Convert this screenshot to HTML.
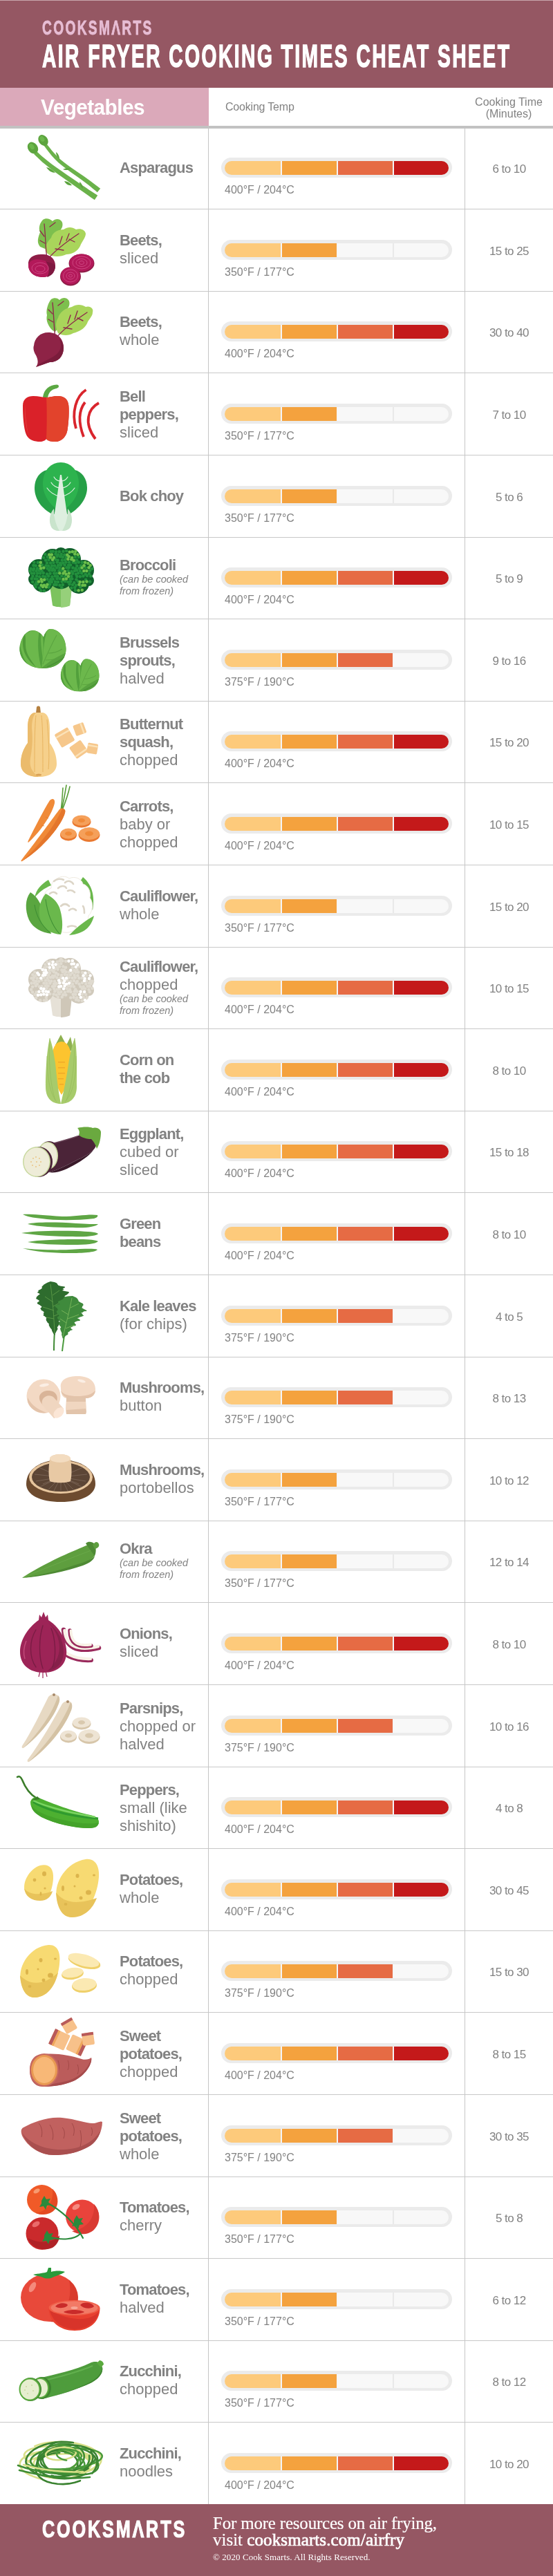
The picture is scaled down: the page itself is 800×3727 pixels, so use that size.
<!DOCTYPE html>
<html><head><meta charset="utf-8"><style>
*{margin:0;padding:0;box-sizing:border-box}
html,body{width:800px;height:3727px;overflow:hidden;background:#fff;font-family:"Liberation Sans",sans-serif}
body>div{will-change:transform}
#hd{position:absolute;left:0;top:0;width:800px;height:127px;background:#955763}
#hd .tl{position:absolute;left:0;top:0;width:800px;height:1px;background:#c9a6ad}
.logo{position:absolute;white-space:nowrap;transform-origin:0 0}
#lg1{left:61px;top:23px;font-size:32px;font-weight:bold;color:#e7bdd4;-webkit-text-stroke:0.9px #e7bdd4;font-size:30px;letter-spacing:3.6px;transform:scaleX(0.64)}
#ttl{position:absolute;left:61px;top:52.5px;-webkit-text-stroke:1.5px #fff;font-size:47px;letter-spacing:4.1px;font-weight:bold;color:#fff;white-space:nowrap;transform-origin:0 0;transform:scaleX(0.6)}
#veg{position:absolute;left:0;top:127px;width:302px;height:55px;background:#dba9ba}
#veg span{position:absolute;left:59px;top:9.5px;font-size:32px;font-weight:bold;color:#fff;letter-spacing:-0.6px;white-space:nowrap;transform-origin:0 0;transform:scaleX(0.93)}
#ct{position:absolute;left:326px;top:146px;letter-spacing:-0.2px;font-size:16px;color:#828282;white-space:nowrap}
#ctm{position:absolute;left:672px;width:128px;top:140px;font-size:16px;line-height:16.7px;color:#828282;text-align:center}
#gl{position:absolute;left:0;top:182px;width:800px;height:4px;background:#c2c2c2}
#v1{position:absolute;left:301px;top:182px;width:1px;height:3441px;background:#c6c6c6}
#v2{position:absolute;left:672px;top:186px;width:1px;height:3437px;background:#c6c6c6}
.row{position:absolute;left:0;width:800px;height:118.6px}
.row:after{content:"";position:absolute;left:0;right:0;top:118.6px;height:1px;background:#c8c8c8}
.ic{position:absolute;left:0;top:0}
.nm{position:absolute;left:173px;top:0;height:118.6px;width:128px;display:flex;flex-direction:column;justify-content:center;color:#828282;}
.nm .b{font-weight:bold;font-size:22px;line-height:26px;letter-spacing:-0.85px;white-space:nowrap}
.nm .r{font-size:22px;line-height:26px;white-space:nowrap}
.nm .nt{font-style:italic;font-size:14.5px;line-height:17px;white-space:nowrap}
.nm .nt1{margin-top:-1px}
.trk{position:absolute;left:320px;top:45px;width:334px;height:29px;border-radius:15px;background:#ebebeb}
.in{position:absolute;left:5px;top:4.5px;width:324px;height:20px;border-radius:10px;overflow:hidden}
.sg,.sp{position:absolute;top:0;height:20px}
.tp{position:absolute;left:325px;top:82.5px;font-size:16px;color:#828282;white-space:nowrap}
.tm{position:absolute;left:673px;width:127px;top:52px;text-align:center;font-size:17px;letter-spacing:-0.55px;color:#828282}
#ft{position:absolute;left:0;top:3622.5px;width:800px;height:104.5px;background:#955763}
#ft .bl{position:absolute;left:0;bottom:0;width:800px;height:1px;background:#c9a6ad}
#lg2{left:61px;top:16px;font-size:38px;font-weight:bold;color:#fff;-webkit-text-stroke:1.2px #fff;font-size:35.5px;letter-spacing:4px;transform:scaleX(0.71)}
.ser{position:absolute;left:308px;font-family:"Liberation Serif",serif;color:#fff;white-space:nowrap}
#f1{top:14px;font-size:25px;letter-spacing:-0.2px;-webkit-text-stroke:0.2px #fff}
#f2{top:38px;font-size:25px;-webkit-text-stroke:0.2px #fff}
#f2 b{font-weight:normal;-webkit-text-stroke:0.7px #fff;letter-spacing:0.1px}
#f3{top:69px;font-size:13px;letter-spacing:0.08px}
</style></head><body>
<div id="hd"><div class="tl"></div>
<div class="logo" id="lg1">COOKSMΛRTS</div>
<div id="ttl">AIR FRYER COOKING TIMES CHEAT SHEET</div>
</div>
<div id="veg"><span>Vegetables</span></div>
<div id="ct">Cooking Temp</div>
<div id="ctm">Cooking Time<br>(Minutes)</div>
<div id="gl"></div>
<div class="row" style="top:183.1px">
<svg class="ic" width="170" height="118" viewBox="0 0 170 118">
<path d="M49.2 40.0 L51.2 42.0 L53.9 44.6 L57.3 47.8 L61.2 51.4 L65.9 55.3 L71.1 59.5 L77.4 64.3 L84.9 69.7 L93.1 75.5 L101.2 81.2 L108.7 86.5 L115.0 90.9 L120.1 94.6 L124.7 97.8 L128.6 100.6 L132.0 102.9 L134.7 104.8 L136.8 106.3 L141.2 99.7 L139.1 98.3 L136.3 96.5 L132.9 94.3 L128.9 91.7 L124.3 88.6 L119.0 85.1 L112.7 80.7 L105.1 75.6 L96.9 70.0 L88.8 64.3 L81.2 59.0 L74.9 54.5 L69.8 50.5 L65.2 46.8 L61.2 43.4 L57.8 40.4 L55.0 37.8 L52.8 36.0Z" fill="#6ab24a"/><path d="M63.3 27.4 L65.3 30.0 L67.9 33.5 L71.2 37.8 L75.0 42.4 L79.4 47.3 L84.2 52.0 L90.0 56.8 L96.8 62.0 L104.0 67.2 L111.2 72.3 L117.8 77.0 L123.2 81.0 L127.5 84.3 L131.2 87.3 L134.4 89.9 L137.0 92.0 L139.1 93.8 L140.8 95.2 L145.2 89.8 L143.4 88.5 L141.2 86.8 L138.5 84.7 L135.2 82.2 L131.3 79.3 L126.8 76.0 L121.3 72.1 L114.6 67.5 L107.3 62.5 L100.1 57.4 L93.4 52.5 L87.8 48.0 L83.1 43.6 L78.8 39.1 L75.0 34.7 L71.7 30.6 L68.9 27.1 L66.7 24.6Z" fill="#6ab24a"/>
<g fill="#5ca43e">
<ellipse cx="47.5" cy="31" rx="7" ry="9" transform="rotate(-35 47.5 31)"/>
<ellipse cx="62.5" cy="20" rx="6.5" ry="8.5" transform="rotate(-35 62.5 20)"/>
<path d="M67 59 C72 60 77 63 80 67 C75 67 70 64 67 59Z"/>
<path d="M93 79 C97 79 101 81 104 85 C99 86 95 83 93 79Z"/>
<path d="M115 80 C118 82 120 86 120 90 C117 88 115 84 115 80Z"/>
<path d="M81 37 C84 39 86 43 86 47 C83 45 81 41 81 37Z"/>
<path d="M91 62 C95 60 99 60 103 61 C99 63 95 64 91 62Z"/>
</g>
<g fill="#6cb84c"><ellipse cx="46" cy="29" rx="3" ry="4.5" transform="rotate(-35 46 29)"/><ellipse cx="61" cy="18" rx="3" ry="4.2" transform="rotate(-35 61 18)"/></g>
</svg>
<div class="nm" style="top:1px"><div class="b">Asparagus</div></div>
<div class="trk"><div class="in"><div class="sg" style="left:0px;width:80.5px;background:#fdca7b"></div><div class="sg" style="left:82.5px;width:79.0px;background:#f4a23e"></div><div class="sg" style="left:163.5px;width:79.0px;background:#e66b44"></div><div class="sg" style="left:244.5px;width:79.5px;background:#c4191a"></div><div class="sp" style="left:80.5px;width:2.0px;background:#f4f4f8"></div><div class="sp" style="left:161.5px;width:2.0px;background:#f4f4f8"></div><div class="sp" style="left:242.5px;width:2.0px;background:#f4f4f8"></div></div></div>
<div class="tp">400°F / 204°C</div>
<div class="tm">6 to 10</div>
</div><div class="row" style="top:301.7px">
<svg class="ic" width="170" height="118" viewBox="0 0 170 118">
<path d="M58 55 C52 48 56 40 58 34 C55 28 58 20 62 16 C66 13 72 14 76 18 C80 14 86 14 89 18 C92 22 90 28 88 30 C88 40 78 50 70 60 Z" fill="#7dbf4e"/>
<path d="M66 62 C64 54 70 46 74 42 C76 34 84 30 92 30 C98 26 104 26 110 30 C116 28 123 30 124 36 C124 42 118 48 116 54 C112 62 104 66 96 66 C88 70 76 70 70 66 Z" fill="#a9d55b"/>
<g stroke="#8d2a4a" stroke-width="1.3" fill="none" stroke-linecap="round">
<path d="M68 72 C66 60 66 40 64 22"/><path d="M70 72 C80 60 96 48 114 36"/>
<path d="M64 40 L58 32 M65 50 L58 46 M86 52 L90 40 M96 46 L100 36 M80 58 L92 60 M72 26 L80 20 M100 44 L108 48"/>
</g>
<path d="M41 81 C40 70 50 65 62 66 C74 66 80 74 80 82 C80 92 70 100 60 99 C48 98 41 91 41 81Z" fill="#8e1d47"/>
<path d="M41 82 C42 74 52 72 60 74 C70 76 78 80 80 84 C79 93 70 100 60 99 C48 98 41 91 41 82Z" fill="#b3195a"/>
<path d="M66 76 C74 78 80 80 80 84 C79 93 74 97 68 99 C72 92 72 84 66 76Z" fill="#7e1840"/>
<g fill="none" stroke="#d04a84" stroke-width="0.9"><ellipse cx="58" cy="86" rx="12" ry="8"/><ellipse cx="58" cy="87" rx="7" ry="4.5"/></g>
<ellipse cx="118" cy="79" rx="18.5" ry="13.5" fill="#8e1d47"/>
<ellipse cx="118" cy="78" rx="17.5" ry="12.5" fill="#b3195a"/>
<g fill="none" stroke="#d04a84" stroke-width="0.9"><ellipse cx="118" cy="78" rx="13" ry="9"/><ellipse cx="118" cy="78" rx="8" ry="5.5"/><ellipse cx="118" cy="78" rx="3.5" ry="2.5"/></g>
<ellipse cx="102" cy="98" rx="15" ry="13.5" fill="#8e1d47"/>
<ellipse cx="102" cy="97" rx="14" ry="12.5" fill="#b3195a"/>
<g fill="none" stroke="#d04a84" stroke-width="0.9"><ellipse cx="102" cy="97" rx="10.5" ry="9"/><ellipse cx="102" cy="97" rx="6" ry="5"/><ellipse cx="102" cy="97" rx="2.5" ry="2"/></g>
</svg>
<div class="nm" style="top:0px"><div class="b">Beets,</div><div class="r">sliced</div></div>
<div class="trk"><div class="in"><div class="sg" style="left:0px;width:80.5px;background:#fdca7b"></div><div class="sg" style="left:82.5px;width:79.0px;background:#f4a23e"></div><div class="sg" style="left:163.5px;width:79.0px;background:#f8f8f8"></div><div class="sg" style="left:244.5px;width:79.5px;background:#f8f8f8"></div><div class="sp" style="left:80.5px;width:2.0px;background:#f4f4f8"></div><div class="sp" style="left:161.5px;width:2.0px;background:#f6f6f6"></div><div class="sp" style="left:242.5px;width:2.0px;background:#e9e9e9"></div></div></div>
<div class="tp">350°F / 177°C</div>
<div class="tm">15 to 25</div>
</div><div class="row" style="top:420.3px">
<svg class="ic" width="170" height="118" viewBox="0 0 170 118">
<path d="M76 58 C70 52 66 44 68 36 C66 28 70 18 74 13 C78 10 84 11 86 14 C90 10 96 10 99 14 C102 18 100 24 98 26 C96 40 88 50 80 60Z" fill="#7dbf4e"/>
<path d="M84 62 C80 54 80 46 84 40 C86 32 94 26 104 24 C110 20 118 20 124 24 C130 22 136 26 134 32 C134 38 128 42 126 48 C122 56 114 60 106 62 C100 66 90 66 84 62Z" fill="#a9d55b"/>
<g stroke="#8d2a4a" stroke-width="1.4" fill="none" stroke-linecap="round">
<path d="M80 68 C78 56 78 36 76 18"/><path d="M82 68 C92 56 108 44 126 32"/>
<path d="M76 34 L70 28 M77 46 L70 42 M98 48 L102 36 M108 42 L112 30 M92 54 L104 56 M84 22 L92 16 M112 40 L120 44"/>
</g>
<path d="M70 61 C83 61 92 70 92 83 C92 96 84 104 72 104 C66 106 60 108 52 111 C56 106 55 100 52 94 C48 88 48 82 49 80 C50 69 58 61 70 61Z" fill="#8e2346"/>
<path d="M86 70 C90 74 92 78 92 83 C92 96 84 104 72 104 C66 106 60 108 52 111 C58 104 72 100 80 94 C88 88 90 80 86 70Z" fill="#7a1c3b"/>
</svg>
<div class="nm" style="top:0px"><div class="b">Beets,</div><div class="r">whole</div></div>
<div class="trk"><div class="in"><div class="sg" style="left:0px;width:80.5px;background:#fdca7b"></div><div class="sg" style="left:82.5px;width:79.0px;background:#f4a23e"></div><div class="sg" style="left:163.5px;width:79.0px;background:#e66b44"></div><div class="sg" style="left:244.5px;width:79.5px;background:#c4191a"></div><div class="sp" style="left:80.5px;width:2.0px;background:#f4f4f8"></div><div class="sp" style="left:161.5px;width:2.0px;background:#f4f4f8"></div><div class="sp" style="left:242.5px;width:2.0px;background:#f4f4f8"></div></div></div>
<div class="tp">400°F / 204°C</div>
<div class="tm">30 to 40</div>
</div><div class="row" style="top:538.9px">
<svg class="ic" width="170" height="118" viewBox="0 0 170 118">
<path d="M62 38 C62 28 68 20 78 18 C82 17 85 17 85 20 C85 23 80 23 76 25 C71 28 69 33 69 39Z" fill="#5ba843"/>
<path d="M56 36 L82 36 L78 40 L60 40Z" fill="#3f8a35"/>
<path d="M48 34 C40 34 33 38 33 48 C33 62 34 80 38 90 C42 98 50 100 58 100 C62 100 66 98 67 96 C69 99 74 100 80 100 C90 100 97 92 98 80 C100 66 100 50 99 46 C98 38 92 34 84 34 C76 34 72 36 67 36 C62 36 56 34 48 34Z" fill="#da2129"/>
<path d="M67 36 C72 36 76 34 84 34 C92 34 98 38 99 46 C100 50 100 66 98 80 C97 92 90 100 80 100 C74 100 69 99 67 96 C68 80 68 50 67 36Z" fill="#e2432c"/>
<path d="M37 46 C36 60 38 80 42 92 C38 82 35 62 37 46Z" fill="#f06a60" opacity="0.7"/>
<g fill="none" stroke="#d9252d" stroke-width="3.8" stroke-linecap="butt">
<path d="M124.5 25 C110 34 103 58 110 81"/>
<path d="M123 43 C113 56 113 72 121 93"/>
<path d="M143 44 C128 52 120 72 138 96"/>
</g>
</svg>
<div class="nm" style="top:1.5px"><div class="b">Bell</div><div class="b">peppers,</div><div class="r">sliced</div></div>
<div class="trk"><div class="in"><div class="sg" style="left:0px;width:80.5px;background:#fdca7b"></div><div class="sg" style="left:82.5px;width:79.0px;background:#f4a23e"></div><div class="sg" style="left:163.5px;width:79.0px;background:#f8f8f8"></div><div class="sg" style="left:244.5px;width:79.5px;background:#f8f8f8"></div><div class="sp" style="left:80.5px;width:2.0px;background:#f4f4f8"></div><div class="sp" style="left:161.5px;width:2.0px;background:#f6f6f6"></div><div class="sp" style="left:242.5px;width:2.0px;background:#e9e9e9"></div></div></div>
<div class="tp">350°F / 177°C</div>
<div class="tm">7 to 10</div>
</div><div class="row" style="top:657.5px">
<svg class="ic" width="170" height="118" viewBox="0 0 170 118">
<path d="M68 22 C58 24 50 34 50 48 C50 64 60 78 76 86 L100 86 C114 78 126 64 126 48 C126 34 118 24 108 22 Z" fill="#26a047"/>
<path d="M88 11 C74 11 62 22 62 42 C62 58 72 74 88 82 C104 74 114 58 114 42 C114 22 102 11 88 11Z" fill="#2db34e"/>
<path d="M87 29 C84 50 80 80 78 90 C74 92 72 98 74 104 C76 108 82 110 88 110 C94 110 100 108 102 104 C104 98 102 92 98 90 C96 80 92 50 89 29Z" fill="#deefe0"/>
<path d="M78 78 C72 84 70 96 74 104 C76 108 80 110 86 110 C80 100 78 90 78 78Z M98 78 C104 84 106 96 102 104 C100 108 96 110 90 110 C96 100 98 90 98 78Z" fill="#c9e4cc"/>
<g fill="none" stroke="#e6f3e8" stroke-width="1.1" stroke-linecap="round">
<path d="M88 38 C84 38 80 36 78 32 M88 38 C92 38 96 36 98 32 M87 48 C82 48 76 44 74 40 M89 48 C94 48 100 44 102 40 M86 60 C78 58 72 54 68 48 M90 60 C98 58 104 54 108 48"/>
</g>
</svg>
<div class="nm" style="top:1px"><div class="b">Bok choy</div></div>
<div class="trk"><div class="in"><div class="sg" style="left:0px;width:80.5px;background:#fdca7b"></div><div class="sg" style="left:82.5px;width:79.0px;background:#f4a23e"></div><div class="sg" style="left:163.5px;width:79.0px;background:#f8f8f8"></div><div class="sg" style="left:244.5px;width:79.5px;background:#f8f8f8"></div><div class="sp" style="left:80.5px;width:2.0px;background:#f4f4f8"></div><div class="sp" style="left:161.5px;width:2.0px;background:#f6f6f6"></div><div class="sp" style="left:242.5px;width:2.0px;background:#e9e9e9"></div></div></div>
<div class="tp">350°F / 177°C</div>
<div class="tm">5 to 6</div>
</div><div class="row" style="top:776.1px">
<svg class="ic" width="170" height="118" viewBox="0 0 170 118"><path d="M71 64 L105 64 L101 100 C96 103 80 103 76 100Z" fill="#7cc35e"/><path d="M88 64 L105 64 L101 100 C98 102 92 103 88 103Z" fill="#96d07a"/><g fill="#11602b"><circle cx="56" cy="48" r="15"/><circle cx="76" cy="34" r="16"/><circle cx="101" cy="33" r="16"/><circle cx="121" cy="49" r="15"/><circle cx="62" cy="66" r="15"/><circle cx="88" cy="58" r="18"/><circle cx="114" cy="68" r="15"/><circle cx="50" cy="62" r="9"/><circle cx="128" cy="64" r="8"/><circle cx="88" cy="26" r="10"/><circle cx="72" cy="50" r="9"/><circle cx="104" cy="50" r="9"/></g><g fill="#23903d"><circle cx="73.7" cy="22.0" r="2.25"/><circle cx="76.5" cy="21.8" r="2.25"/><circle cx="81.1" cy="22.2" r="2.25"/><circle cx="85.8" cy="22.2" r="2.25"/><circle cx="91.5" cy="21.7" r="2.25"/><circle cx="96.2" cy="21.1" r="2.25"/><circle cx="65.3" cy="26.1" r="2.25"/><circle cx="80.4" cy="25.7" r="2.25"/><circle cx="84.0" cy="26.5" r="2.25"/><circle cx="88.7" cy="25.9" r="2.25"/><circle cx="93.4" cy="26.8" r="2.25"/><circle cx="63.2" cy="30.7" r="2.25"/><circle cx="68.7" cy="29.7" r="2.25"/><circle cx="82.6" cy="29.1" r="2.25"/><circle cx="87.3" cy="29.2" r="2.25"/><circle cx="90.8" cy="30.0" r="2.25"/><circle cx="95.8" cy="30.5" r="2.25"/><circle cx="108.9" cy="30.0" r="2.25"/><circle cx="113.9" cy="29.7" r="2.25"/><circle cx="66.1" cy="34.4" r="2.25"/><circle cx="70.5" cy="33.9" r="2.25"/><circle cx="80.3" cy="33.6" r="2.25"/><circle cx="83.7" cy="34.6" r="2.25"/><circle cx="89.7" cy="34.5" r="2.25"/><circle cx="94.0" cy="34.1" r="2.25"/><circle cx="111.1" cy="34.6" r="2.25"/><circle cx="49.2" cy="37.5" r="2.25"/><circle cx="54.9" cy="37.8" r="2.25"/><circle cx="68.0" cy="38.4" r="2.25"/><circle cx="73.1" cy="38.5" r="2.25"/><circle cx="77.4" cy="38.0" r="2.25"/><circle cx="82.7" cy="37.4" r="2.25"/><circle cx="87.0" cy="38.7" r="2.25"/><circle cx="91.1" cy="38.4" r="2.25"/><circle cx="95.4" cy="37.5" r="2.25"/><circle cx="100.1" cy="37.5" r="2.25"/><circle cx="105.8" cy="37.6" r="2.25"/><circle cx="109.4" cy="38.6" r="2.25"/><circle cx="113.8" cy="37.5" r="2.25"/><circle cx="118.8" cy="37.8" r="2.25"/><circle cx="48.4" cy="41.9" r="2.25"/><circle cx="51.7" cy="42.4" r="2.25"/><circle cx="60.8" cy="41.6" r="2.25"/><circle cx="66.4" cy="42.6" r="2.25"/><circle cx="70.2" cy="42.7" r="2.25"/><circle cx="75.1" cy="42.4" r="2.25"/><circle cx="79.1" cy="42.6" r="2.25"/><circle cx="84.1" cy="42.1" r="2.25"/><circle cx="88.1" cy="41.7" r="2.25"/><circle cx="93.6" cy="41.5" r="2.25"/><circle cx="99.0" cy="41.8" r="2.25"/><circle cx="102.1" cy="41.6" r="2.25"/><circle cx="111.3" cy="42.8" r="2.25"/><circle cx="117.1" cy="42.5" r="2.25"/><circle cx="44.6" cy="46.7" r="2.25"/><circle cx="49.1" cy="46.8" r="2.25"/><circle cx="54.1" cy="46.4" r="2.25"/><circle cx="68.6" cy="46.5" r="2.25"/><circle cx="73.2" cy="45.7" r="2.25"/><circle cx="77.2" cy="46.7" r="2.25"/><circle cx="82.0" cy="45.5" r="2.25"/><circle cx="86.3" cy="45.7" r="2.25"/><circle cx="96.4" cy="45.3" r="2.25"/><circle cx="99.7" cy="45.3" r="2.25"/><circle cx="105.4" cy="45.4" r="2.25"/><circle cx="109.4" cy="46.4" r="2.25"/><circle cx="114.6" cy="46.2" r="2.25"/><circle cx="123.5" cy="45.5" r="2.25"/><circle cx="133.3" cy="46.8" r="2.25"/><circle cx="43.6" cy="50.0" r="2.25"/><circle cx="48.0" cy="49.1" r="2.25"/><circle cx="52.5" cy="50.0" r="2.25"/><circle cx="56.7" cy="49.4" r="2.25"/><circle cx="60.6" cy="50.0" r="2.25"/><circle cx="71.3" cy="49.3" r="2.25"/><circle cx="75.4" cy="49.2" r="2.25"/><circle cx="79.3" cy="49.2" r="2.25"/><circle cx="85.2" cy="49.7" r="2.25"/><circle cx="89.4" cy="49.3" r="2.25"/><circle cx="98.6" cy="49.7" r="2.25"/><circle cx="103.6" cy="50.7" r="2.25"/><circle cx="107.9" cy="50.0" r="2.25"/><circle cx="111.2" cy="49.2" r="2.25"/><circle cx="116.0" cy="50.0" r="2.25"/><circle cx="130.2" cy="49.4" r="2.25"/><circle cx="45.7" cy="53.4" r="2.25"/><circle cx="49.3" cy="53.5" r="2.25"/><circle cx="54.2" cy="53.4" r="2.25"/><circle cx="58.3" cy="53.4" r="2.25"/><circle cx="62.8" cy="53.1" r="2.25"/><circle cx="68.0" cy="54.4" r="2.25"/><circle cx="72.6" cy="53.8" r="2.25"/><circle cx="78.2" cy="53.5" r="2.25"/><circle cx="82.0" cy="53.4" r="2.25"/><circle cx="105.2" cy="53.7" r="2.25"/><circle cx="109.9" cy="54.8" r="2.25"/><circle cx="113.3" cy="53.2" r="2.25"/><circle cx="118.2" cy="53.2" r="2.25"/><circle cx="123.7" cy="54.7" r="2.25"/><circle cx="128.9" cy="54.0" r="2.25"/><circle cx="47.4" cy="57.7" r="2.25"/><circle cx="53.0" cy="57.4" r="2.25"/><circle cx="57.2" cy="58.6" r="2.25"/><circle cx="62.2" cy="57.8" r="2.25"/><circle cx="65.5" cy="58.5" r="2.25"/><circle cx="70.2" cy="57.4" r="2.25"/><circle cx="75.4" cy="58.4" r="2.25"/><circle cx="79.8" cy="57.4" r="2.25"/><circle cx="83.5" cy="57.9" r="2.25"/><circle cx="89.3" cy="57.3" r="2.25"/><circle cx="94.2" cy="58.3" r="2.25"/><circle cx="103.2" cy="57.7" r="2.25"/><circle cx="111.3" cy="58.1" r="2.25"/><circle cx="115.8" cy="58.3" r="2.25"/><circle cx="120.4" cy="57.4" r="2.25"/><circle cx="126.0" cy="57.1" r="2.25"/><circle cx="131.2" cy="57.5" r="2.25"/><circle cx="45.8" cy="61.3" r="2.25"/><circle cx="50.6" cy="61.5" r="2.25"/><circle cx="53.7" cy="61.9" r="2.25"/><circle cx="68.4" cy="61.9" r="2.25"/><circle cx="73.4" cy="62.2" r="2.25"/><circle cx="76.9" cy="62.1" r="2.25"/><circle cx="82.4" cy="61.2" r="2.25"/><circle cx="86.6" cy="61.2" r="2.25"/><circle cx="101.3" cy="61.7" r="2.25"/><circle cx="104.3" cy="61.5" r="2.25"/><circle cx="110.4" cy="62.4" r="2.25"/><circle cx="124.1" cy="62.8" r="2.25"/><circle cx="47.2" cy="65.9" r="2.25"/><circle cx="52.6" cy="66.4" r="2.25"/><circle cx="71.3" cy="65.8" r="2.25"/><circle cx="74.9" cy="65.9" r="2.25"/><circle cx="79.9" cy="65.7" r="2.25"/><circle cx="84.0" cy="65.9" r="2.25"/><circle cx="89.6" cy="65.6" r="2.25"/><circle cx="94.2" cy="65.1" r="2.25"/><circle cx="98.3" cy="66.1" r="2.25"/><circle cx="102.0" cy="65.5" r="2.25"/><circle cx="107.3" cy="66.9" r="2.25"/><circle cx="112.9" cy="65.2" r="2.25"/><circle cx="130.3" cy="65.6" r="2.25"/><circle cx="50.4" cy="70.1" r="2.25"/><circle cx="53.8" cy="69.1" r="2.25"/><circle cx="72.2" cy="69.4" r="2.25"/><circle cx="78.3" cy="70.1" r="2.25"/><circle cx="81.7" cy="69.9" r="2.25"/><circle cx="86.5" cy="70.8" r="2.25"/><circle cx="90.9" cy="70.0" r="2.25"/><circle cx="100.6" cy="69.2" r="2.25"/><circle cx="105.1" cy="70.0" r="2.25"/><circle cx="110.0" cy="70.7" r="2.25"/><circle cx="51.7" cy="73.2" r="2.25"/><circle cx="57.2" cy="74.6" r="2.25"/><circle cx="70.6" cy="73.6" r="2.25"/><circle cx="89.3" cy="74.3" r="2.25"/><circle cx="103.4" cy="74.7" r="2.25"/><circle cx="108.2" cy="74.1" r="2.25"/><circle cx="116.2" cy="73.3" r="2.25"/><circle cx="59.1" cy="78.6" r="2.25"/><circle cx="63.8" cy="78.8" r="2.25"/><circle cx="108.9" cy="78.1" r="2.25"/></g><g fill="#6cbf4b"><circle cx="100.7" cy="22.8" r="2.25"/><circle cx="104.9" cy="22.2" r="2.25"/><circle cx="109.4" cy="21.7" r="2.25"/><circle cx="71.2" cy="26.6" r="2.25"/><circle cx="74.8" cy="26.6" r="2.25"/><circle cx="97.3" cy="26.8" r="2.25"/><circle cx="108.2" cy="25.5" r="2.25"/><circle cx="112.6" cy="26.3" r="2.25"/><circle cx="72.9" cy="30.6" r="2.25"/><circle cx="77.9" cy="30.8" r="2.25"/><circle cx="99.6" cy="29.3" r="2.25"/><circle cx="104.2" cy="30.9" r="2.25"/><circle cx="76.0" cy="33.8" r="2.25"/><circle cx="98.4" cy="33.1" r="2.25"/><circle cx="103.3" cy="33.2" r="2.25"/><circle cx="106.7" cy="34.7" r="2.25"/><circle cx="58.8" cy="37.7" r="2.25"/><circle cx="123.1" cy="37.7" r="2.25"/><circle cx="127.4" cy="38.9" r="2.25"/><circle cx="57.6" cy="42.6" r="2.25"/><circle cx="121.5" cy="42.3" r="2.25"/><circle cx="130.7" cy="42.1" r="2.25"/><circle cx="59.1" cy="46.3" r="2.25"/><circle cx="63.3" cy="45.4" r="2.25"/><circle cx="91.3" cy="46.5" r="2.25"/><circle cx="118.6" cy="45.4" r="2.25"/><circle cx="128.5" cy="45.2" r="2.25"/><circle cx="93.8" cy="50.8" r="2.25"/><circle cx="121.3" cy="49.9" r="2.25"/><circle cx="125.4" cy="49.9" r="2.25"/><circle cx="86.3" cy="53.3" r="2.25"/><circle cx="91.6" cy="53.6" r="2.25"/><circle cx="95.7" cy="54.8" r="2.25"/><circle cx="99.9" cy="53.6" r="2.25"/><circle cx="98.9" cy="57.9" r="2.25"/><circle cx="59.6" cy="62.2" r="2.25"/><circle cx="64.1" cy="62.7" r="2.25"/><circle cx="91.6" cy="61.9" r="2.25"/><circle cx="96.0" cy="61.5" r="2.25"/><circle cx="56.1" cy="65.6" r="2.25"/><circle cx="60.6" cy="65.4" r="2.25"/><circle cx="115.7" cy="65.9" r="2.25"/><circle cx="120.4" cy="66.1" r="2.25"/><circle cx="125.5" cy="65.5" r="2.25"/><circle cx="59.7" cy="70.7" r="2.25"/><circle cx="63.9" cy="70.8" r="2.25"/><circle cx="68.4" cy="69.8" r="2.25"/><circle cx="114.5" cy="69.8" r="2.25"/><circle cx="119.5" cy="70.8" r="2.25"/><circle cx="122.9" cy="70.8" r="2.25"/><circle cx="62.0" cy="73.1" r="2.25"/><circle cx="66.8" cy="73.2" r="2.25"/><circle cx="113.6" cy="78.2" r="2.25"/><circle cx="118.8" cy="77.8" r="2.25"/></g></svg>
<div class="nm" style="top:-0.4px"><div class="b">Broccoli</div><div class="nt nt1">(can be cooked</div><div class="nt">from frozen)</div></div>
<div class="trk"><div class="in"><div class="sg" style="left:0px;width:80.5px;background:#fdca7b"></div><div class="sg" style="left:82.5px;width:79.0px;background:#f4a23e"></div><div class="sg" style="left:163.5px;width:79.0px;background:#e66b44"></div><div class="sg" style="left:244.5px;width:79.5px;background:#c4191a"></div><div class="sp" style="left:80.5px;width:2.0px;background:#f4f4f8"></div><div class="sp" style="left:161.5px;width:2.0px;background:#f4f4f8"></div><div class="sp" style="left:242.5px;width:2.0px;background:#f4f4f8"></div></div></div>
<div class="tp">400°F / 204°C</div>
<div class="tm">5 to 9</div>
</div><div class="row" style="top:894.7px">
<svg class="ic" width="170" height="118" viewBox="0 0 170 118"><defs><clipPath id="spc"><path d="M63 27 C58 19 50 15 42 18 C32 23 28 36 28.5 46 C30 62 44 72 62 72 C80 72 95.5 62 95.5 44 C95.5 28 86 15 72 15 C68 16 65 20 63 27Z"/></clipPath></defs><g clip-path="url(#spc)">
<rect x="20" y="10" width="90" height="70" fill="#5aa440"/>
<path d="M36 23 C30 30 28 40 29 50 C32 64 46 72 60 72 C56 56 54 36 57 17 C48 16 41 19 36 23Z" fill="#6cb84c"/>
<path d="M20 20 C30 28 28 40 32 50 C34 58 38 64 44 70 L20 80Z" fill="#52a03c"/>
<path d="M36 22 C38 30 36 38 38 46 C40 54 46 62 52 70 C44 64 38 56 35 48 C32 38 32 28 36 22Z" fill="#4f9a38"/>
<path d="M57 17 C64 16 69 24 68 40 C66 54 62 64 60 72 C56 58 53 36 57 17Z" fill="#52a03c"/>
<path d="M60 20 C63 26 63 40 62 58 C60 44 58 30 60 20Z" fill="#6cb84c"/>
<path d="M69 14 C84 10 100 24 100 40 C100 46 96 50 90 52 C78 58 68 66 60 72 C63 52 63 30 69 14Z" fill="#6cb84c"/>
<path d="M62 66 C68 52 74 38 82 24 M70 50 C76 50 84 48 90 44 M66 60 C72 60 80 60 86 56" stroke="#5aa440" stroke-width="1.1" fill="none"/>
<path d="M60 72 C70 62 84 54 100 48 L100 80 L60 80Z" fill="#58a33f"/>
<path d="M68 70 C78 66 88 60 96 54" stroke="#4a9236" stroke-width="1.6" fill="none"/>
</g><g transform="translate(115.7 82.3) scale(0.83) translate(-62 -44)"><g clip-path="url(#spc)">
<rect x="20" y="10" width="90" height="70" fill="#5aa440"/>
<path d="M36 23 C30 30 28 40 29 50 C32 64 46 72 60 72 C56 56 54 36 57 17 C48 16 41 19 36 23Z" fill="#6cb84c"/>
<path d="M20 20 C30 28 28 40 32 50 C34 58 38 64 44 70 L20 80Z" fill="#52a03c"/>
<path d="M36 22 C38 30 36 38 38 46 C40 54 46 62 52 70 C44 64 38 56 35 48 C32 38 32 28 36 22Z" fill="#4f9a38"/>
<path d="M57 17 C64 16 69 24 68 40 C66 54 62 64 60 72 C56 58 53 36 57 17Z" fill="#52a03c"/>
<path d="M60 20 C63 26 63 40 62 58 C60 44 58 30 60 20Z" fill="#6cb84c"/>
<path d="M69 14 C84 10 100 24 100 40 C100 46 96 50 90 52 C78 58 68 66 60 72 C63 52 63 30 69 14Z" fill="#6cb84c"/>
<path d="M62 66 C68 52 74 38 82 24 M70 50 C76 50 84 48 90 44 M66 60 C72 60 80 60 86 56" stroke="#5aa440" stroke-width="1.1" fill="none"/>
<path d="M60 72 C70 62 84 54 100 48 L100 80 L60 80Z" fill="#58a33f"/>
<path d="M68 70 C78 66 88 60 96 54" stroke="#4a9236" stroke-width="1.6" fill="none"/>
</g></g></svg>
<div class="nm" style="top:1.5px"><div class="b">Brussels</div><div class="b">sprouts,</div><div class="r">halved</div></div>
<div class="trk"><div class="in"><div class="sg" style="left:0px;width:80.5px;background:#fdca7b"></div><div class="sg" style="left:82.5px;width:79.0px;background:#f4a23e"></div><div class="sg" style="left:163.5px;width:79.0px;background:#e66b44"></div><div class="sg" style="left:244.5px;width:79.5px;background:#f8f8f8"></div><div class="sp" style="left:80.5px;width:2.0px;background:#f4f4f8"></div><div class="sp" style="left:161.5px;width:2.0px;background:#f4f4f8"></div><div class="sp" style="left:242.5px;width:2.0px;background:#f6f6f6"></div></div></div>
<div class="tp">375°F / 190°C</div>
<div class="tm">9 to 16</div>
</div><div class="row" style="top:1013.3px">
<svg class="ic" width="170" height="118" viewBox="0 0 170 118">
<path d="M53 10 C54 8 57 8 58 10 L59 19 L52 19Z" fill="#b5803f"/>
<path d="M50 18 C43 19 40 28 40 40 L40 62 C34 70 30 80 30 92 C30 104 40 111 56 111 C72 111 82 104 82 92 C82 80 78 70 72 62 L72 40 C72 28 69 19 62 18 Z" fill="#f6d08b"/>
<path d="M50 18 C43 19 40 28 40 40 L40 62 C34 70 30 80 30 92 C30 104 40 111 56 111 C46 104 42 96 44 84 C46 72 48 60 46 40 C46 30 48 22 52 18Z" fill="#ebbb6c"/>
<g fill="none" stroke="#e8b460" stroke-width="1"><path d="M52 22 C50 40 50 70 50 104 M60 22 C62 40 62 70 62 104 M68 28 C70 50 72 80 70 100"/></g>
<ellipse cx="56" cy="108" rx="4" ry="1.5" fill="#d9a055"/>
<g transform="rotate(-30 93.5 54)"><rect x="82.5" y="43" width="22" height="22" rx="2" fill="#f6c78b"/><rect x="82.5" y="47" width="22" height="2.5" fill="#fbe2b8"/></g>
<g transform="rotate(-20 115.3 42)"><rect x="107.3" y="34" width="16" height="16" rx="2" fill="#f6c78b"/><rect x="118" y="34" width="2.5" height="16" fill="#fbe2b8"/></g>
<g transform="rotate(-35 113.7 71.3)"><rect x="103.7" y="61.3" width="20" height="20" rx="2" fill="#f6c78b"/><rect x="103.7" y="76" width="20" height="2.5" fill="#fbe2b8"/></g>
<g transform="rotate(10 133.7 70)"><rect x="126.2" y="62.5" width="15" height="15" rx="2" fill="#f6c78b"/><rect x="126.2" y="65" width="15" height="2.5" fill="#fbe2b8"/></g>
</svg>
<div class="nm" style="top:1.5px"><div class="b">Butternut</div><div class="b">squash,</div><div class="r">chopped</div></div>
<div class="trk"><div class="in"><div class="sg" style="left:0px;width:80.5px;background:#fdca7b"></div><div class="sg" style="left:82.5px;width:79.0px;background:#f4a23e"></div><div class="sg" style="left:163.5px;width:79.0px;background:#e66b44"></div><div class="sg" style="left:244.5px;width:79.5px;background:#c4191a"></div><div class="sp" style="left:80.5px;width:2.0px;background:#f4f4f8"></div><div class="sp" style="left:161.5px;width:2.0px;background:#f4f4f8"></div><div class="sp" style="left:242.5px;width:2.0px;background:#f4f4f8"></div></div></div>
<div class="tp">400°F / 204°C</div>
<div class="tm">15 to 20</div>
</div><div class="row" style="top:1131.9px">
<svg class="ic" width="170" height="118" viewBox="0 0 170 118">
<g fill="none" stroke="#5a9e3a" stroke-width="1.6" stroke-linecap="round"><path d="M89 40 C92 28 94 16 96 4 M90 40 C94 30 98 20 101 6 M88 40 C90 30 90 20 91 8"/></g>
<path d="M72 26 C76 22 80 24 79 30 C76 44 60 70 42 86 C40 88 40 86 41 84 C50 66 62 42 72 26Z" fill="#f08a38"/>
<path d="M86 39 C90 36 95 38 94 44 C90 60 64 94 32 114 C30 115 30 113 32 111 C50 88 72 58 86 39Z" fill="#f08a38"/>
<path d="M90 38 C95 38 95 42 94 44 C90 60 64 94 32 114 C58 90 80 62 90 38Z" fill="#e4762c"/>
<g stroke="#e4762c" stroke-width="0.8"><path d="M66 50 l4 2 M60 62 l4 1 M80 56 l4 2 M72 70 l4 1 M62 84 l4 1"/></g>
<ellipse cx="118" cy="57" rx="13.5" ry="8.5" fill="#e9782f"/><ellipse cx="118" cy="55" rx="13" ry="7.5" fill="#f5a05a"/><ellipse cx="118" cy="55" rx="5" ry="3" fill="#f08a38"/>
<ellipse cx="99" cy="76" rx="12" ry="8.5" fill="#e9782f"/><ellipse cx="99" cy="74" rx="11.5" ry="7.5" fill="#f5a05a"/><ellipse cx="99" cy="74" rx="5" ry="3" fill="#f08a38"/>
<ellipse cx="129" cy="76" rx="15.5" ry="10" fill="#e9782f"/><ellipse cx="129" cy="74" rx="15" ry="9" fill="#f5a05a"/><ellipse cx="129" cy="74" rx="6" ry="3.5" fill="#f08a38"/>
</svg>
<div class="nm" style="top:1.5px"><div class="b">Carrots,</div><div class="r">baby or</div><div class="r">chopped</div></div>
<div class="trk"><div class="in"><div class="sg" style="left:0px;width:80.5px;background:#fdca7b"></div><div class="sg" style="left:82.5px;width:79.0px;background:#f4a23e"></div><div class="sg" style="left:163.5px;width:79.0px;background:#e66b44"></div><div class="sg" style="left:244.5px;width:79.5px;background:#c4191a"></div><div class="sp" style="left:80.5px;width:2.0px;background:#f4f4f8"></div><div class="sp" style="left:161.5px;width:2.0px;background:#f4f4f8"></div><div class="sp" style="left:242.5px;width:2.0px;background:#f4f4f8"></div></div></div>
<div class="tp">400°F / 204°C</div>
<div class="tm">10 to 15</div>
</div><div class="row" style="top:1250.5px">
<svg class="ic" width="170" height="118" viewBox="0 0 170 118">
<path d="M70 22 C60 28 52 36 50 48 C56 40 64 34 74 30Z" fill="#6ab84c"/>
<path d="M120 18 C132 28 138 44 134 66 C128 50 120 36 112 30Z" fill="#6ab84c"/>
<g fill="#ffffff" stroke="#efeae0" stroke-width="1"><path d="M80 22 C86 16 96 16 100 20 C108 16 118 20 120 28 C128 30 132 40 130 48 C136 56 134 68 128 74 C128 84 120 92 110 92 C104 100 90 100 84 94 C74 96 66 88 66 80 C58 74 58 62 64 56 C60 46 66 36 74 34 C74 28 76 24 80 22Z"/></g>
<g fill="none" stroke="#dcd5c7" stroke-width="2.6" stroke-linecap="round">
<path d="M78 24 C82 20 88 20 92 22 M94 26 C98 22 104 24 106 28 M84 34 C88 30 94 30 96 34 M98 38 C102 36 106 38 108 40 M72 42 C76 38 80 40 82 42 M88 60 C92 56 96 56 100 60 M100 66 C104 62 108 64 110 66 M120 60 C122 62 122 66 122 70 M98 90 C102 88 106 88 110 90"/>
</g>
<path d="M44 40 C36 50 36 66 42 80 C48 92 60 98 74 100 C70 84 62 70 58 56 C54 48 50 44 44 40Z" fill="#5aa640"/>
<path d="M66 42 C56 54 54 70 60 84 C64 94 74 100 88 101 C92 90 90 74 86 62 C82 52 74 46 66 42Z" fill="#6ab84c"/>
<path d="M66 50 C68 66 72 84 86 100 M50 58 C52 72 58 86 72 98" stroke="#3f8f34" stroke-width="1.1" fill="none"/>
<path d="M136 74 C132 90 122 100 100 102 C108 94 118 84 136 74Z" fill="#6ab84c"/>
</svg>
<div class="nm" style="top:0px"><div class="b">Cauliflower,</div><div class="r">whole</div></div>
<div class="trk"><div class="in"><div class="sg" style="left:0px;width:80.5px;background:#fdca7b"></div><div class="sg" style="left:82.5px;width:79.0px;background:#f4a23e"></div><div class="sg" style="left:163.5px;width:79.0px;background:#f8f8f8"></div><div class="sg" style="left:244.5px;width:79.5px;background:#f8f8f8"></div><div class="sp" style="left:80.5px;width:2.0px;background:#f4f4f8"></div><div class="sp" style="left:161.5px;width:2.0px;background:#f6f6f6"></div><div class="sp" style="left:242.5px;width:2.0px;background:#e9e9e9"></div></div></div>
<div class="tp">350°F / 177°C</div>
<div class="tm">15 to 20</div>
</div><div class="row" style="top:1369.1px">
<svg class="ic" width="170" height="118" viewBox="0 0 170 118"><path d="M71 64 L105 64 L101 100 C96 103 80 103 76 100Z" fill="#e6e1d7"/><path d="M88 64 L105 64 L101 100 C98 102 92 103 88 103Z" fill="#cfc7b8"/><g fill="#d0c9bb"><circle cx="56" cy="48" r="15"/><circle cx="76" cy="34" r="16"/><circle cx="101" cy="33" r="16"/><circle cx="121" cy="49" r="15"/><circle cx="62" cy="66" r="15"/><circle cx="88" cy="58" r="18"/><circle cx="114" cy="68" r="15"/><circle cx="50" cy="62" r="9"/><circle cx="128" cy="64" r="8"/><circle cx="88" cy="26" r="10"/><circle cx="72" cy="50" r="9"/><circle cx="104" cy="50" r="9"/></g><g fill="#e0dbd0"><circle cx="88.2" cy="18.4" r="2.25"/><circle cx="68.3" cy="22.8" r="2.25"/><circle cx="72.8" cy="22.2" r="2.25"/><circle cx="82.7" cy="22.5" r="2.25"/><circle cx="86.4" cy="21.3" r="2.25"/><circle cx="90.4" cy="21.2" r="2.25"/><circle cx="95.2" cy="21.7" r="2.25"/><circle cx="65.4" cy="26.5" r="2.25"/><circle cx="83.9" cy="26.0" r="2.25"/><circle cx="88.2" cy="25.2" r="2.25"/><circle cx="64.2" cy="30.9" r="2.25"/><circle cx="67.9" cy="30.1" r="2.25"/><circle cx="82.7" cy="30.6" r="2.25"/><circle cx="86.2" cy="29.6" r="2.25"/><circle cx="91.4" cy="29.6" r="2.25"/><circle cx="95.1" cy="30.7" r="2.25"/><circle cx="104.9" cy="30.8" r="2.25"/><circle cx="114.1" cy="29.4" r="2.25"/><circle cx="71.3" cy="34.8" r="2.25"/><circle cx="75.3" cy="34.8" r="2.25"/><circle cx="79.1" cy="33.3" r="2.25"/><circle cx="83.6" cy="33.5" r="2.25"/><circle cx="89.3" cy="34.5" r="2.25"/><circle cx="93.0" cy="34.4" r="2.25"/><circle cx="107.4" cy="34.9" r="2.25"/><circle cx="111.4" cy="33.9" r="2.25"/><circle cx="50.3" cy="37.6" r="2.25"/><circle cx="72.0" cy="38.8" r="2.25"/><circle cx="77.9" cy="37.3" r="2.25"/><circle cx="81.2" cy="38.7" r="2.25"/><circle cx="90.8" cy="37.3" r="2.25"/><circle cx="95.3" cy="37.3" r="2.25"/><circle cx="99.6" cy="37.5" r="2.25"/><circle cx="104.6" cy="38.5" r="2.25"/><circle cx="109.6" cy="37.4" r="2.25"/><circle cx="113.3" cy="37.6" r="2.25"/><circle cx="119.2" cy="38.1" r="2.25"/><circle cx="128.6" cy="37.9" r="2.25"/><circle cx="47.3" cy="41.2" r="2.25"/><circle cx="51.4" cy="42.4" r="2.25"/><circle cx="70.0" cy="41.9" r="2.25"/><circle cx="76.0" cy="42.9" r="2.25"/><circle cx="79.3" cy="42.8" r="2.25"/><circle cx="84.1" cy="41.1" r="2.25"/><circle cx="89.0" cy="42.0" r="2.25"/><circle cx="93.6" cy="41.1" r="2.25"/><circle cx="97.5" cy="41.8" r="2.25"/><circle cx="101.9" cy="41.6" r="2.25"/><circle cx="107.6" cy="42.1" r="2.25"/><circle cx="112.3" cy="42.4" r="2.25"/><circle cx="125.0" cy="42.6" r="2.25"/><circle cx="45.5" cy="46.3" r="2.25"/><circle cx="49.0" cy="45.3" r="2.25"/><circle cx="53.7" cy="46.6" r="2.25"/><circle cx="63.6" cy="45.1" r="2.25"/><circle cx="68.6" cy="46.0" r="2.25"/><circle cx="73.1" cy="45.2" r="2.25"/><circle cx="77.0" cy="45.2" r="2.25"/><circle cx="82.4" cy="45.5" r="2.25"/><circle cx="87.5" cy="46.0" r="2.25"/><circle cx="99.8" cy="45.6" r="2.25"/><circle cx="104.6" cy="46.1" r="2.25"/><circle cx="108.8" cy="45.6" r="2.25"/><circle cx="114.5" cy="46.3" r="2.25"/><circle cx="118.8" cy="45.9" r="2.25"/><circle cx="48.4" cy="49.3" r="2.25"/><circle cx="52.2" cy="50.7" r="2.25"/><circle cx="56.3" cy="50.7" r="2.25"/><circle cx="60.5" cy="49.1" r="2.25"/><circle cx="65.9" cy="49.6" r="2.25"/><circle cx="70.3" cy="49.7" r="2.25"/><circle cx="74.3" cy="50.5" r="2.25"/><circle cx="79.1" cy="50.8" r="2.25"/><circle cx="88.8" cy="50.9" r="2.25"/><circle cx="97.4" cy="49.3" r="2.25"/><circle cx="102.4" cy="50.8" r="2.25"/><circle cx="107.0" cy="50.0" r="2.25"/><circle cx="111.8" cy="50.8" r="2.25"/><circle cx="125.0" cy="50.4" r="2.25"/><circle cx="130.9" cy="50.3" r="2.25"/><circle cx="134.2" cy="50.8" r="2.25"/><circle cx="45.5" cy="53.6" r="2.25"/><circle cx="49.6" cy="53.4" r="2.25"/><circle cx="53.9" cy="54.7" r="2.25"/><circle cx="63.5" cy="53.4" r="2.25"/><circle cx="67.5" cy="53.7" r="2.25"/><circle cx="72.3" cy="53.6" r="2.25"/><circle cx="78.1" cy="54.4" r="2.25"/><circle cx="81.8" cy="54.0" r="2.25"/><circle cx="104.9" cy="54.8" r="2.25"/><circle cx="110.3" cy="53.1" r="2.25"/><circle cx="114.6" cy="54.7" r="2.25"/><circle cx="119.0" cy="53.1" r="2.25"/><circle cx="124.2" cy="54.6" r="2.25"/><circle cx="128.9" cy="53.5" r="2.25"/><circle cx="132.0" cy="54.0" r="2.25"/><circle cx="47.1" cy="58.8" r="2.25"/><circle cx="51.8" cy="57.3" r="2.25"/><circle cx="57.0" cy="58.4" r="2.25"/><circle cx="60.6" cy="58.0" r="2.25"/><circle cx="65.8" cy="57.5" r="2.25"/><circle cx="69.7" cy="57.6" r="2.25"/><circle cx="76.0" cy="58.3" r="2.25"/><circle cx="79.8" cy="57.5" r="2.25"/><circle cx="99.0" cy="57.5" r="2.25"/><circle cx="102.5" cy="57.9" r="2.25"/><circle cx="106.9" cy="58.5" r="2.25"/><circle cx="116.3" cy="58.6" r="2.25"/><circle cx="120.7" cy="58.5" r="2.25"/><circle cx="126.6" cy="58.0" r="2.25"/><circle cx="129.9" cy="57.9" r="2.25"/><circle cx="45.0" cy="62.7" r="2.25"/><circle cx="67.6" cy="61.1" r="2.25"/><circle cx="72.5" cy="62.8" r="2.25"/><circle cx="78.2" cy="61.5" r="2.25"/><circle cx="82.6" cy="62.6" r="2.25"/><circle cx="85.8" cy="62.0" r="2.25"/><circle cx="96.5" cy="61.2" r="2.25"/><circle cx="101.0" cy="62.5" r="2.25"/><circle cx="109.2" cy="62.4" r="2.25"/><circle cx="119.0" cy="61.6" r="2.25"/><circle cx="123.1" cy="61.6" r="2.25"/><circle cx="128.5" cy="62.7" r="2.25"/><circle cx="133.4" cy="61.1" r="2.25"/><circle cx="47.0" cy="66.5" r="2.25"/><circle cx="52.8" cy="66.5" r="2.25"/><circle cx="79.4" cy="65.3" r="2.25"/><circle cx="84.4" cy="66.4" r="2.25"/><circle cx="88.5" cy="65.9" r="2.25"/><circle cx="93.9" cy="66.4" r="2.25"/><circle cx="98.5" cy="65.3" r="2.25"/><circle cx="102.4" cy="66.1" r="2.25"/><circle cx="107.8" cy="65.5" r="2.25"/><circle cx="111.5" cy="65.4" r="2.25"/><circle cx="129.7" cy="66.0" r="2.25"/><circle cx="50.5" cy="69.9" r="2.25"/><circle cx="72.3" cy="69.1" r="2.25"/><circle cx="77.7" cy="69.4" r="2.25"/><circle cx="81.5" cy="70.5" r="2.25"/><circle cx="85.8" cy="69.3" r="2.25"/><circle cx="91.3" cy="70.3" r="2.25"/><circle cx="95.2" cy="70.4" r="2.25"/><circle cx="105.8" cy="69.7" r="2.25"/><circle cx="109.3" cy="69.8" r="2.25"/><circle cx="119.2" cy="69.5" r="2.25"/><circle cx="124.1" cy="69.9" r="2.25"/><circle cx="52.2" cy="74.8" r="2.25"/><circle cx="66.9" cy="74.0" r="2.25"/><circle cx="83.9" cy="73.8" r="2.25"/><circle cx="89.6" cy="73.4" r="2.25"/><circle cx="102.3" cy="74.4" r="2.25"/><circle cx="106.6" cy="74.1" r="2.25"/><circle cx="111.2" cy="74.6" r="2.25"/><circle cx="120.9" cy="73.9" r="2.25"/><circle cx="125.7" cy="74.3" r="2.25"/><circle cx="58.2" cy="78.2" r="2.25"/><circle cx="64.0" cy="78.5" r="2.25"/><circle cx="67.4" cy="78.0" r="2.25"/><circle cx="110.1" cy="77.4" r="2.25"/><circle cx="113.8" cy="78.6" r="2.25"/><circle cx="118.8" cy="78.8" r="2.25"/></g><g fill="#ffffff"><circle cx="76.6" cy="22.7" r="2.25"/><circle cx="99.5" cy="21.4" r="2.25"/><circle cx="104.8" cy="21.1" r="2.25"/><circle cx="71.1" cy="25.7" r="2.25"/><circle cx="75.8" cy="26.9" r="2.25"/><circle cx="80.4" cy="26.6" r="2.25"/><circle cx="103.6" cy="25.8" r="2.25"/><circle cx="106.9" cy="25.5" r="2.25"/><circle cx="112.2" cy="26.7" r="2.25"/><circle cx="71.9" cy="30.8" r="2.25"/><circle cx="77.4" cy="30.8" r="2.25"/><circle cx="109.7" cy="30.0" r="2.25"/><circle cx="61.7" cy="33.9" r="2.25"/><circle cx="66.0" cy="34.8" r="2.25"/><circle cx="102.3" cy="34.8" r="2.25"/><circle cx="54.3" cy="38.7" r="2.25"/><circle cx="63.7" cy="38.4" r="2.25"/><circle cx="67.4" cy="38.3" r="2.25"/><circle cx="123.4" cy="38.8" r="2.25"/><circle cx="56.2" cy="41.3" r="2.25"/><circle cx="62.1" cy="42.3" r="2.25"/><circle cx="65.5" cy="41.6" r="2.25"/><circle cx="120.6" cy="42.4" r="2.25"/><circle cx="130.6" cy="42.4" r="2.25"/><circle cx="59.2" cy="46.2" r="2.25"/><circle cx="91.2" cy="46.3" r="2.25"/><circle cx="96.0" cy="46.3" r="2.25"/><circle cx="122.7" cy="46.7" r="2.25"/><circle cx="128.9" cy="46.8" r="2.25"/><circle cx="85.1" cy="49.6" r="2.25"/><circle cx="93.3" cy="49.9" r="2.25"/><circle cx="122.0" cy="50.1" r="2.25"/><circle cx="86.3" cy="53.2" r="2.25"/><circle cx="92.0" cy="53.3" r="2.25"/><circle cx="96.0" cy="54.7" r="2.25"/><circle cx="100.0" cy="53.5" r="2.25"/><circle cx="85.2" cy="58.4" r="2.25"/><circle cx="88.1" cy="58.0" r="2.25"/><circle cx="93.5" cy="57.6" r="2.25"/><circle cx="59.4" cy="61.2" r="2.25"/><circle cx="63.4" cy="61.8" r="2.25"/><circle cx="92.0" cy="61.4" r="2.25"/><circle cx="56.5" cy="65.7" r="2.25"/><circle cx="61.9" cy="65.2" r="2.25"/><circle cx="66.5" cy="65.5" r="2.25"/><circle cx="69.8" cy="66.1" r="2.25"/><circle cx="116.7" cy="65.7" r="2.25"/><circle cx="122.1" cy="66.0" r="2.25"/><circle cx="54.9" cy="70.8" r="2.25"/><circle cx="59.2" cy="70.2" r="2.25"/><circle cx="63.4" cy="69.4" r="2.25"/><circle cx="67.8" cy="70.2" r="2.25"/><circle cx="115.1" cy="69.8" r="2.25"/><circle cx="116.8" cy="74.1" r="2.25"/><circle cx="123.0" cy="78.0" r="2.25"/></g></svg>
<div class="nm" style="top:0px"><div class="b">Cauliflower,</div><div class="r">chopped</div><div class="nt nt1">(can be cooked</div><div class="nt">from frozen)</div></div>
<div class="trk"><div class="in"><div class="sg" style="left:0px;width:80.5px;background:#fdca7b"></div><div class="sg" style="left:82.5px;width:79.0px;background:#f4a23e"></div><div class="sg" style="left:163.5px;width:79.0px;background:#e66b44"></div><div class="sg" style="left:244.5px;width:79.5px;background:#c4191a"></div><div class="sp" style="left:80.5px;width:2.0px;background:#f4f4f8"></div><div class="sp" style="left:161.5px;width:2.0px;background:#f4f4f8"></div><div class="sp" style="left:242.5px;width:2.0px;background:#f4f4f8"></div></div></div>
<div class="tp">400°F / 204°C</div>
<div class="tm">10 to 15</div>
</div><div class="row" style="top:1487.7px">
<svg class="ic" width="170" height="118" viewBox="0 0 170 118">
<path d="M74 14 L80 24 L88 9 L96 24 L102 12 L106 30 L90 40 Z" fill="#8fb150"/>
<path d="M89 19 C80 19 75 30 75 44 C75 64 80 82 89 96 C98 82 103 64 103 44 C103 30 98 19 89 19Z" fill="#fcc42f"/>
<g fill="#f0a928"><path d="M84 48 h10 v1.5 h-10z M84 56 h10 v1.5 h-10z M84 64 h10 v1.5 h-10z M84 72 h8 v1.5 h-8z M86 80 h6 v1.5 h-6z"/></g>
<path d="M72 14 C68 30 66 60 66 84 C66 100 74 109 88 109 C84 90 82 70 80 50 C78 38 76 24 72 14Z" fill="#a7cb6b"/>
<path d="M108 14 C112 30 111 60 111 84 C111 100 102 109 88 109 C92 92 96 72 99 52 C101 38 104 24 108 14Z" fill="#a7cb6b"/>
<path d="M72 14 C70 40 72 80 80 104 M68 40 C68 70 72 94 82 106 M108 14 C108 44 106 80 96 104 M110 40 C110 70 106 94 94 106" stroke="#95ba5a" stroke-width="0.7" fill="none"/>
</svg>
<div class="nm" style="top:0px"><div class="b">Corn on</div><div class="b">the cob</div></div>
<div class="trk"><div class="in"><div class="sg" style="left:0px;width:80.5px;background:#fdca7b"></div><div class="sg" style="left:82.5px;width:79.0px;background:#f4a23e"></div><div class="sg" style="left:163.5px;width:79.0px;background:#e66b44"></div><div class="sg" style="left:244.5px;width:79.5px;background:#c4191a"></div><div class="sp" style="left:80.5px;width:2.0px;background:#f4f4f8"></div><div class="sp" style="left:161.5px;width:2.0px;background:#f4f4f8"></div><div class="sp" style="left:242.5px;width:2.0px;background:#f4f4f8"></div></div></div>
<div class="tp">400°F / 204°C</div>
<div class="tm">8 to 10</div>
</div><div class="row" style="top:1606.3px">
<svg class="ic" width="170" height="118" viewBox="0 0 170 118">
<path d="M60 56 C72 48 96 44 116 36 C128 32 140 36 140 46 C140 58 126 66 112 72 C96 80 82 88 70 90 C62 88 56 70 60 56Z" fill="#4b2438"/>
<path d="M70 90 C82 88 96 80 112 72 C126 66 140 58 140 46 C138 60 124 70 110 78 C96 86 84 92 70 90Z" fill="#3a1a2a"/>
<path d="M70 50 C86 46 100 42 112 38" stroke="#6a4458" stroke-width="1.5" fill="none" stroke-linecap="round"/>
<path d="M112 26 C120 24 130 24 134 26 C140 24 146 28 146 32 C146 40 144 50 140 56 C138 50 136 46 132 42 C126 42 118 40 114 36 C116 32 114 28 112 26Z" fill="#6aa93f"/>
<ellipse cx="71" cy="66" rx="16" ry="21" fill="#4b2438"/>
<ellipse cx="69" cy="66" rx="15" ry="20" fill="#c9d9a0"/>
<ellipse cx="69" cy="66" rx="13.5" ry="18.5" fill="#eeecd8"/>
<ellipse cx="56" cy="75" rx="20" ry="22" fill="#4b2438"/>
<ellipse cx="53" cy="75" rx="20" ry="22" fill="#c9d9a0"/>
<ellipse cx="53" cy="75" rx="18.5" ry="20.5" fill="#eeecd8"/>
<g fill="#e8a84a"><circle cx="48" cy="70" r="0.8"/><circle cx="52" cy="68" r="0.8"/><circle cx="57" cy="70" r="0.8"/><circle cx="59" cy="75" r="0.8"/><circle cx="57" cy="80" r="0.8"/><circle cx="52" cy="82" r="0.8"/><circle cx="47" cy="80" r="0.8"/><circle cx="45" cy="75" r="0.8"/><circle cx="53" cy="75" r="0.8"/></g>
</svg>
<div class="nm" style="top:1.5px"><div class="b">Eggplant,</div><div class="r">cubed or</div><div class="r">sliced</div></div>
<div class="trk"><div class="in"><div class="sg" style="left:0px;width:80.5px;background:#fdca7b"></div><div class="sg" style="left:82.5px;width:79.0px;background:#f4a23e"></div><div class="sg" style="left:163.5px;width:79.0px;background:#e66b44"></div><div class="sg" style="left:244.5px;width:79.5px;background:#c4191a"></div><div class="sp" style="left:80.5px;width:2.0px;background:#f4f4f8"></div><div class="sp" style="left:161.5px;width:2.0px;background:#f4f4f8"></div><div class="sp" style="left:242.5px;width:2.0px;background:#f4f4f8"></div></div></div>
<div class="tp">400°F / 204°C</div>
<div class="tm">15 to 18</div>
</div><div class="row" style="top:1724.9px">
<svg class="ic" width="170" height="118" viewBox="0 0 170 118">
<g fill="#5fa645">
<path d="M33 32 C40 31 60 33 90 35 C110 35 130 31 141 33 C142 35 140 37 136 38 C110 41 80 41 60 38 C48 37 38 35 33 32Z"/>
<path d="M40 46 C50 43 80 43 110 45 C125 46 136 46 142 46 C138 50 125 52 105 51 C80 51 55 50 40 46Z"/>
<path d="M31 59 C45 56 80 55 110 56 C128 57 138 57 142 60 C140 63 125 65 105 64 C80 64 50 62 31 59Z"/>
<path d="M40 72 C55 69 85 68 115 68 C130 68 138 69 142 71 C138 75 125 76 105 76 C80 76 55 75 40 72Z"/>
<path d="M33 81 C50 83 80 84 100 83 C120 82 135 81 141 83 C138 87 120 88 100 88 C75 88 50 86 33 81Z"/>
</g>
</svg>
<div class="nm" style="top:0px"><div class="b">Green</div><div class="b">beans</div></div>
<div class="trk"><div class="in"><div class="sg" style="left:0px;width:80.5px;background:#fdca7b"></div><div class="sg" style="left:82.5px;width:79.0px;background:#f4a23e"></div><div class="sg" style="left:163.5px;width:79.0px;background:#e66b44"></div><div class="sg" style="left:244.5px;width:79.5px;background:#c4191a"></div><div class="sp" style="left:80.5px;width:2.0px;background:#f4f4f8"></div><div class="sp" style="left:161.5px;width:2.0px;background:#f4f4f8"></div><div class="sp" style="left:242.5px;width:2.0px;background:#f4f4f8"></div></div></div>
<div class="tp">400°F / 204°C</div>
<div class="tm">8 to 10</div>
</div><div class="row" style="top:1843.5px">
<svg class="ic" width="170" height="118" viewBox="0 0 170 118">
<path d="M78 110 C78 98 78.5 90 79 82" stroke="#3f8a34" stroke-width="2" fill="none"/>
<path d="M90 111 C91 102 92 96 93 88" stroke="#4a9a3c" stroke-width="2" fill="none"/>
<path d="M73.0 10.0 L68.4 11.7 L65.7 13.2 L63.2 14.7 L62.2 16.1 L60.5 17.5 L60.7 18.8 L60.7 20.1 L58.6 21.6 L55.3 23.1 L55.7 24.4 L53.7 25.9 L55.9 27.0 L57.9 28.2 L56.0 29.6 L54.3 31.1 L52.9 32.5 L52.5 33.8 L52.1 35.1 L54.5 36.3 L56.5 37.4 L56.7 38.7 L54.3 40.2 L53.7 41.6 L54.7 42.8 L57.4 43.9 L58.5 45.1 L60.4 46.3 L60.1 47.6 L58.1 49.1 L59.3 50.3 L59.5 51.6 L61.7 52.7 L63.5 53.9 L63.5 55.2 L62.8 56.6 L63.3 57.8 L62.5 59.2 L64.5 60.3 L65.9 61.5 L67.4 62.7 L66.6 64.1 L66.8 65.4 L66.9 66.7 L68.0 67.9 L68.4 69.2 L70.0 70.4 L70.8 71.6 L70.7 72.9 L71.0 74.2 L71.9 75.5 L72.4 76.7 L73.4 78.0 L74.6 79.2 L75.0 80.5 L75.2 81.8 L76.0 83.0 L76.6 84.3 L77.3 85.5 L78.2 86.8 L79.0 88.0 L79.0 88.0 L79.7 86.6 L80.0 85.3 L80.7 83.9 L81.4 82.6 L82.1 81.2 L83.1 79.8 L83.6 78.5 L83.0 77.2 L82.8 75.9 L84.4 74.5 L84.8 73.2 L85.8 71.8 L87.2 70.4 L86.8 69.1 L84.6 68.0 L86.1 66.5 L86.9 65.2 L89.0 63.7 L89.2 62.4 L91.2 60.9 L90.0 59.7 L87.2 58.6 L88.3 57.2 L91.3 55.7 L91.4 54.4 L93.8 52.9 L94.7 51.5 L91.2 50.4 L90.2 49.2 L92.4 47.7 L93.0 46.4 L96.4 44.8 L98.3 43.4 L96.0 42.2 L93.1 41.1 L92.7 39.9 L94.0 38.5 L97.2 36.9 L100.4 35.4 L101.6 34.0 L96.3 33.1 L93.2 32.0 L94.3 30.6 L97.1 29.1 L98.3 27.7 L100.0 26.2 L99.3 25.0 L93.7 24.1 L90.0 23.1 L92.6 21.6 L90.7 20.4 L94.2 18.8 L93.5 17.6 L88.0 16.7 L84.5 15.7 L83.4 14.4 L82.8 13.2 L81.3 12.0 L78.6 10.9 L73.0 10.0Z" fill="#2e6c2e"/>
<g stroke="#5d9c48" stroke-width="0.9" fill="none"><path d="M79 86 C78 60 76 36 73 14 M77 40 L65 32 M78 52 L62 47 M78 64 L67 62 M76 30 L86 23 M77 46 L90 39 M78 60 L88 56"/></g>
<path d="M105.0 31.0 L101.0 31.2 L97.7 31.5 L95.4 32.1 L93.5 32.7 L92.1 33.5 L91.7 34.5 L91.2 35.5 L89.7 36.2 L88.2 37.0 L86.8 37.8 L84.6 38.4 L84.1 39.3 L83.9 40.4 L85.3 41.8 L86.3 43.1 L83.7 43.6 L81.5 44.2 L79.8 44.8 L79.7 45.9 L80.5 47.2 L82.7 48.8 L83.3 50.0 L83.8 51.2 L83.0 52.1 L82.0 53.0 L81.7 54.0 L82.4 55.2 L82.4 56.3 L84.4 57.8 L85.7 59.2 L85.2 60.2 L83.6 60.9 L82.9 61.8 L83.0 63.0 L83.6 64.2 L85.2 65.6 L86.2 66.9 L86.7 68.1 L85.7 69.0 L85.2 70.0 L84.9 71.0 L85.2 72.1 L86.0 73.4 L87.0 74.7 L88.3 76.1 L87.8 77.1 L86.9 78.0 L87.3 79.1 L87.4 80.2 L88.0 81.5 L88.5 82.7 L89.2 83.9 L89.4 85.0 L89.3 86.1 L89.1 87.1 L89.5 88.3 L89.8 89.5 L90.1 90.6 L90.6 91.8 L91.0 93.0 L91.0 93.0 L92.0 92.1 L92.5 91.2 L93.3 90.3 L94.4 89.4 L95.1 88.5 L96.5 87.7 L98.0 87.0 L98.6 86.0 L98.2 84.8 L98.3 83.8 L99.4 82.9 L100.8 82.2 L101.2 81.2 L103.6 80.6 L105.3 79.9 L103.2 78.4 L102.1 77.0 L103.0 76.2 L104.9 75.5 L105.9 74.6 L108.7 74.2 L109.8 73.4 L109.7 72.3 L108.2 70.8 L107.5 69.6 L108.5 68.7 L110.1 68.0 L112.0 67.3 L115.1 66.9 L116.2 66.1 L114.9 64.7 L111.6 62.9 L114.1 62.4 L115.6 61.6 L117.9 61.1 L119.5 60.3 L121.4 59.7 L119.2 58.1 L119.4 57.1 L117.1 55.5 L119.3 54.9 L120.6 54.1 L121.5 53.2 L125.4 53.0 L125.4 51.9 L121.0 49.8 L118.1 48.1 L119.2 47.2 L118.9 46.1 L120.1 45.3 L120.5 44.3 L120.5 43.2 L119.8 41.9 L115.7 39.9 L113.3 38.3 L113.5 37.3 L112.6 36.0 L111.8 34.7 L110.1 33.2 L105.0 31.0Z" fill="#3f8a3c"/>
<g stroke="#7cb85c" stroke-width="0.9" fill="none"><path d="M91 90 C96 70 101 50 104 34 M96 70 L87 64 M99 58 L89 52 M98 64 L114 58 M102 48 L114 42 M95 78 L108 73"/></g>
</svg>
<div class="nm" style="top:0px"><div class="b">Kale leaves</div><div class="r">(for chips)</div></div>
<div class="trk"><div class="in"><div class="sg" style="left:0px;width:80.5px;background:#fdca7b"></div><div class="sg" style="left:82.5px;width:79.0px;background:#f4a23e"></div><div class="sg" style="left:163.5px;width:79.0px;background:#e66b44"></div><div class="sg" style="left:244.5px;width:79.5px;background:#f8f8f8"></div><div class="sp" style="left:80.5px;width:2.0px;background:#f4f4f8"></div><div class="sp" style="left:161.5px;width:2.0px;background:#f4f4f8"></div><div class="sp" style="left:242.5px;width:2.0px;background:#f6f6f6"></div></div></div>
<div class="tp">375°F / 190°C</div>
<div class="tm">4 to 5</div>
</div><div class="row" style="top:1962.1px">
<svg class="ic" width="170" height="118" viewBox="0 0 170 118">
<path d="M88 46 C86 34 98 29 112 29 C128 29 138 36 138 48 C138 56 134 60 126 61 L96 61 C90 60 88 54 88 46Z" fill="#f3d9c4"/>
<path d="M88 50 C90 58 96 61 104 61 L126 61 C132 60 137 57 138 50 C132 56 124 58 112 58 C100 58 92 56 88 50Z" fill="#e3c3aa"/>
<path d="M96 60 L124 60 C124 70 126 78 124 84 L96 84 C94 76 96 68 96 60Z" fill="#f0d6c0"/>
<path d="M96 60 L124 60 L124 66 L96 66Z M96 84 L124 84 C126 80 124 78 124 76 L96 78Z" fill="#e2c4ab"/>
<ellipse cx="118" cy="36" rx="6" ry="2" fill="#fbeee4" transform="rotate(15 118 36)"/>
<circle cx="63" cy="58" r="24.5" fill="#f3d9c4"/>
<path d="M40 66 C44 78 56 84 68 82 C56 78 46 72 40 60Z" fill="#e3c3aa"/>
<path d="M57 58 C60 50 70 48 78 52 C84 56 84 64 80 70 L66 74 C60 70 56 64 57 58Z" fill="#d9b498"/>
<path d="M62 62 C66 56 74 56 78 60 L92 76 C90 84 84 88 78 90 L64 74 C60 70 60 66 62 62Z" fill="#f0d6c0"/>
<ellipse cx="85" cy="82" rx="9" ry="6" transform="rotate(-45 85 82)" fill="#fbe6d6"/>
<ellipse cx="64" cy="42" rx="7" ry="2.2" fill="#fbeee4" transform="rotate(-10 64 42)"/>
</svg>
<div class="nm" style="top:0px"><div class="b">Mushrooms,</div><div class="r">button</div></div>
<div class="trk"><div class="in"><div class="sg" style="left:0px;width:80.5px;background:#fdca7b"></div><div class="sg" style="left:82.5px;width:79.0px;background:#f4a23e"></div><div class="sg" style="left:163.5px;width:79.0px;background:#e66b44"></div><div class="sg" style="left:244.5px;width:79.5px;background:#f8f8f8"></div><div class="sp" style="left:80.5px;width:2.0px;background:#f4f4f8"></div><div class="sp" style="left:161.5px;width:2.0px;background:#f4f4f8"></div><div class="sp" style="left:242.5px;width:2.0px;background:#f6f6f6"></div></div></div>
<div class="tp">375°F / 190°C</div>
<div class="tm">8 to 13</div>
</div><div class="row" style="top:2080.7px">
<svg class="ic" width="170" height="118" viewBox="0 0 170 118">
<path d="M38 66 C38 44 60 31 88 31 C116 31 138 44 138 66 C138 82 118 92 88 92 C58 92 38 82 38 66Z" fill="#6d4b2f"/>
<ellipse cx="88" cy="56" rx="46" ry="24" fill="#e6c59d"/>
<ellipse cx="88" cy="56" rx="42" ry="21" fill="#5c4535"/>
<g stroke="#8a7466" stroke-width="0.6" fill="none">
<path d="M88 56 L50 52 M88 56 L52 62 M88 56 L58 70 M88 56 L70 74 M88 56 L88 76 M88 56 L106 74 M88 56 L118 70 M88 56 L124 62 M88 56 L126 52 M88 56 L120 42 M88 56 L56 42 M88 56 L62 66 M88 56 L114 66 M88 56 L78 76 M88 56 L98 76"/>
</g>
<path d="M72 30 C72 26 78 23 87 23 C96 23 102 26 102 30 C104 42 104 54 102 62 C96 65 78 65 72 62 C70 54 70 42 72 30Z" fill="#e8c9a4"/>
<ellipse cx="87" cy="29" rx="15" ry="6" fill="#f3dcc0"/>
</svg>
<div class="nm" style="top:0px"><div class="b">Mushrooms,</div><div class="r">portobellos</div></div>
<div class="trk"><div class="in"><div class="sg" style="left:0px;width:80.5px;background:#fdca7b"></div><div class="sg" style="left:82.5px;width:79.0px;background:#f4a23e"></div><div class="sg" style="left:163.5px;width:79.0px;background:#f8f8f8"></div><div class="sg" style="left:244.5px;width:79.5px;background:#f8f8f8"></div><div class="sp" style="left:80.5px;width:2.0px;background:#f4f4f8"></div><div class="sp" style="left:161.5px;width:2.0px;background:#f6f6f6"></div><div class="sp" style="left:242.5px;width:2.0px;background:#e9e9e9"></div></div></div>
<div class="tp">350°F / 177°C</div>
<div class="tm">10 to 12</div>
</div><div class="row" style="top:2199.3px">
<svg class="ic" width="170" height="118" viewBox="0 0 170 118">
<path d="M32 84 C46 74 76 58 104 46 C114 42 122 38 128 36 C134 38 138 44 137 52 C130 60 118 64 104 68 C80 76 54 82 32 84Z" fill="#5e9e3e"/>
<path d="M32 84 C56 80 84 74 106 66 C120 62 132 58 137 52 C136 58 130 62 120 66 C96 74 62 82 32 84Z" fill="#4e8a34"/>
<path d="M34 83 C56 74 90 60 132 44" stroke="#6aa94a" stroke-width="1" fill="none"/>
<path d="M124 34 C128 30 134 32 136 34 L138 36 C139 42 139 48 137 52 C132 46 128 40 124 34Z" fill="#4e8a34"/>
<path d="M134 36 L137 33 C139 31 142 32 143 35 C144 38 142 40 140 41 L137 42Z" fill="#5e9e3e"/>
</svg>
<div class="nm" style="top:-0.4px"><div class="b">Okra</div><div class="nt nt1">(can be cooked</div><div class="nt">from frozen)</div></div>
<div class="trk"><div class="in"><div class="sg" style="left:0px;width:80.5px;background:#fdca7b"></div><div class="sg" style="left:82.5px;width:79.0px;background:#f4a23e"></div><div class="sg" style="left:163.5px;width:79.0px;background:#f8f8f8"></div><div class="sg" style="left:244.5px;width:79.5px;background:#f8f8f8"></div><div class="sp" style="left:80.5px;width:2.0px;background:#f4f4f8"></div><div class="sp" style="left:161.5px;width:2.0px;background:#f6f6f6"></div><div class="sp" style="left:242.5px;width:2.0px;background:#e9e9e9"></div></div></div>
<div class="tp">350°F / 177°C</div>
<div class="tm">12 to 14</div>
</div><div class="row" style="top:2317.9px">
<svg class="ic" width="170" height="118" viewBox="0 0 170 118">
<g fill="none" stroke-linecap="round">
<path d="M92 40 Q95 78 143 66" stroke="#9a2a5c" stroke-width="6.5"/>
<path d="M93.5 41 Q97 75 142 64" stroke="#f8f2e6" stroke-width="4.6"/>
<path d="M80 60 Q96 86 132 84" stroke="#9a2a5c" stroke-width="6"/>
<path d="M81 59 Q97 83 131 82" stroke="#f8f2e6" stroke-width="4.2"/>
<path d="M101 41 Q101 68 132 63" stroke="#9a2a5c" stroke-width="5.5"/>
<path d="M102.5 41.5 Q103 66 131 61.5" stroke="#f8f2e6" stroke-width="3.8"/>
</g>
<path d="M63 14 L66 22 L69 18 L70 26 C80 32 94 46 96 68 C98 90 84 102 63 102 C42 102 29 90 29 72 C29 52 44 34 56 26 L57 18 L60 22Z" fill="#9d2457"/>
<path d="M70 30 C84 40 92 56 92 72 C92 88 82 98 68 100 C80 90 86 78 86 66 C86 52 80 40 70 30Z" fill="#86204a"/>
<g stroke="#7a1c44" stroke-width="1.4" fill="none" stroke-linecap="round"><path d="M52 40 C42 56 42 80 52 94 M62 34 C56 52 56 80 62 96 M74 38 C80 52 82 78 76 94"/></g>
<path d="M38 56 C34 66 34 76 36 82" stroke="#c24a7a" stroke-width="1.5" fill="none"/>
<path d="M58 100 L56 108 M62 101 L62 110 M66 100 L68 108" stroke="#9d2457" stroke-width="1.2"/>
</svg>
<div class="nm" style="top:0px"><div class="b">Onions,</div><div class="r">sliced</div></div>
<div class="trk"><div class="in"><div class="sg" style="left:0px;width:80.5px;background:#fdca7b"></div><div class="sg" style="left:82.5px;width:79.0px;background:#f4a23e"></div><div class="sg" style="left:163.5px;width:79.0px;background:#e66b44"></div><div class="sg" style="left:244.5px;width:79.5px;background:#c4191a"></div><div class="sp" style="left:80.5px;width:2.0px;background:#f4f4f8"></div><div class="sp" style="left:161.5px;width:2.0px;background:#f4f4f8"></div><div class="sp" style="left:242.5px;width:2.0px;background:#f4f4f8"></div></div></div>
<div class="tp">400°F / 204°C</div>
<div class="tm">8 to 10</div>
</div><div class="row" style="top:2436.5px">
<svg class="ic" width="170" height="118" viewBox="0 0 170 118">
<path d="M70 18 C76 11 86 14 86 22 C84 40 62 70 34 92 C32 93 31 91 32 89 C46 68 60 38 70 18Z" fill="#e7d9c3"/>
<path d="M84 16 C88 20 86 26 84 30 C78 46 60 72 34 92 C56 70 76 42 84 16Z" fill="#d4c2a4"/>
<path d="M90 28 C96 21 106 24 104 32 C100 52 76 88 42 112 C40 113 39 111 40 109 C60 82 78 50 90 28Z" fill="#e7d9c3"/>
<path d="M102 26 C106 30 104 36 102 40 C94 60 72 90 42 112 C68 86 92 54 102 26Z" fill="#d4c2a4"/>
<circle cx="78" cy="15" r="2" fill="#a88a6a"/><circle cx="98" cy="25" r="2" fill="#a88a6a"/>
<ellipse cx="118" cy="57" rx="13.5" ry="8.5" fill="#d7c6aa"/><ellipse cx="118" cy="55" rx="13" ry="7.5" fill="#eee4d4"/><ellipse cx="118" cy="55" rx="5" ry="3" fill="#d9c9ae"/>
<ellipse cx="99" cy="76" rx="12" ry="8.5" fill="#d7c6aa"/><ellipse cx="99" cy="74" rx="11.5" ry="7.5" fill="#eee4d4"/><ellipse cx="99" cy="74" rx="5" ry="3" fill="#d9c9ae"/>
<ellipse cx="129" cy="76" rx="15.5" ry="10" fill="#d7c6aa"/><ellipse cx="129" cy="74" rx="15" ry="9" fill="#eee4d4"/><ellipse cx="129" cy="74" rx="6" ry="3.5" fill="#d9c9ae"/>
</svg>
<div class="nm" style="top:1.5px"><div class="b">Parsnips,</div><div class="r">chopped or</div><div class="r">halved</div></div>
<div class="trk"><div class="in"><div class="sg" style="left:0px;width:80.5px;background:#fdca7b"></div><div class="sg" style="left:82.5px;width:79.0px;background:#f4a23e"></div><div class="sg" style="left:163.5px;width:79.0px;background:#e66b44"></div><div class="sg" style="left:244.5px;width:79.5px;background:#f8f8f8"></div><div class="sp" style="left:80.5px;width:2.0px;background:#f4f4f8"></div><div class="sp" style="left:161.5px;width:2.0px;background:#f4f4f8"></div><div class="sp" style="left:242.5px;width:2.0px;background:#f6f6f6"></div></div></div>
<div class="tp">375°F / 190°C</div>
<div class="tm">10 to 16</div>
</div><div class="row" style="top:2555.1px">
<svg class="ic" width="170" height="118" viewBox="0 0 170 118">
<path d="M25 16 C28 14 30 16 32 20 C36 30 42 40 52 46" stroke="#3b7d2a" stroke-width="2.6" fill="none" stroke-linecap="round"/>
<path d="M44 52 C46 46 50 44 56 46 C70 52 100 64 126 70 C136 72 142 74 143 80 C143 86 140 90 130 90 C110 90 80 84 60 74 C50 68 44 62 44 52Z" fill="#4db031"/>
<path d="M46 58 C52 66 70 74 100 80 C120 84 136 84 143 82 C142 88 136 90 128 90 C108 90 80 84 60 74 C50 68 46 64 46 58Z" fill="#44a32a"/>
<path d="M48 52 C60 60 90 72 142 76" stroke="#2f9a2f" stroke-width="3" fill="none"/>
<path d="M48 50 C60 56 90 66 138 74" stroke="#7ad462" stroke-width="2.4" fill="none"/>
<path d="M46 50 L54 44 L58 48 Z" fill="#3b7d2a"/>
</svg>
<div class="nm" style="top:1.5px"><div class="b">Peppers,</div><div class="r">small (like</div><div class="r">shishito)</div></div>
<div class="trk"><div class="in"><div class="sg" style="left:0px;width:80.5px;background:#fdca7b"></div><div class="sg" style="left:82.5px;width:79.0px;background:#f4a23e"></div><div class="sg" style="left:163.5px;width:79.0px;background:#e66b44"></div><div class="sg" style="left:244.5px;width:79.5px;background:#c4191a"></div><div class="sp" style="left:80.5px;width:2.0px;background:#f4f4f8"></div><div class="sp" style="left:161.5px;width:2.0px;background:#f4f4f8"></div><div class="sp" style="left:242.5px;width:2.0px;background:#f4f4f8"></div></div></div>
<div class="tp">400°F / 204°C</div>
<div class="tm">4 to 8</div>
</div><div class="row" style="top:2673.7px">
<svg class="ic" width="170" height="118" viewBox="0 0 170 118">
<path d="M36 62 C32 50 42 30 58 25 C70 22 78 28 77 44 C76 58 72 74 58 75 C46 76 38 70 36 62Z" fill="#f7da72"/>
<path d="M35 58 C40 66 56 70 76 62 C74 70 68 76 58 76 C46 76 37 70 35 58Z" fill="#e8c35a"/>
<g fill="#dcb44c"><ellipse cx="64" cy="37" rx="3" ry="3.5"/><circle cx="50" cy="46" r="2.4"/><circle cx="65" cy="58" r="1.6"/><ellipse cx="59" cy="66" rx="1.4" ry="3"/></g>
<path d="M82 70 C78 50 96 20 124 16 C140 14 146 30 142 50 C138 74 124 100 104 100 C90 100 84 86 82 70Z" fill="#f7da72"/>
<path d="M81 64 C90 76 106 84 140 72 C134 88 122 100 104 100 C90 100 82 86 81 64Z" fill="#e8c35a"/>
<g fill="#dcb44c"><ellipse cx="112" cy="40" rx="2.5" ry="3"/><ellipse cx="91" cy="58" rx="2" ry="4"/><circle cx="108" cy="55" r="1.5"/><ellipse cx="128" cy="64" rx="4" ry="3.5"/><ellipse cx="117" cy="72" rx="2.5" ry="2.5"/><ellipse cx="136" cy="39" rx="2" ry="1.6"/><ellipse cx="95" cy="81" rx="2.4" ry="2"/></g>
</svg>
<div class="nm" style="top:0px"><div class="b">Potatoes,</div><div class="r">whole</div></div>
<div class="trk"><div class="in"><div class="sg" style="left:0px;width:80.5px;background:#fdca7b"></div><div class="sg" style="left:82.5px;width:79.0px;background:#f4a23e"></div><div class="sg" style="left:163.5px;width:79.0px;background:#e66b44"></div><div class="sg" style="left:244.5px;width:79.5px;background:#c4191a"></div><div class="sp" style="left:80.5px;width:2.0px;background:#f4f4f8"></div><div class="sp" style="left:161.5px;width:2.0px;background:#f4f4f8"></div><div class="sp" style="left:242.5px;width:2.0px;background:#f4f4f8"></div></div></div>
<div class="tp">400°F / 204°C</div>
<div class="tm">30 to 45</div>
</div><div class="row" style="top:2792.3px">
<svg class="ic" width="170" height="118" viewBox="0 0 170 118">
<path d="M30 72 C26 52 44 24 70 22 C84 21 88 34 86 50 C84 70 74 96 52 98 C38 99 32 88 30 72Z" fill="#f7da72"/>
<path d="M29 66 C40 78 60 84 84 62 C80 80 70 96 52 98 C38 99 30 86 29 66Z" fill="#e8c35a"/>
<g fill="#dcb44c"><ellipse cx="59" cy="44" rx="2.5" ry="3"/><ellipse cx="39" cy="61" rx="2" ry="4"/><circle cx="55" cy="57" r="1.5"/><ellipse cx="73" cy="66" rx="4" ry="3.5"/><ellipse cx="63" cy="73" rx="2.5" ry="2.4"/><ellipse cx="80" cy="42" rx="2" ry="1.6"/><ellipse cx="43" cy="82" rx="2.4" ry="2"/></g>
<ellipse cx="122" cy="46" rx="24" ry="9.5" transform="rotate(15 122 46)" fill="#efd06a"/>
<ellipse cx="121" cy="44" rx="23" ry="8.5" transform="rotate(15 121 44)" fill="#fbe9b2"/>
<ellipse cx="105" cy="64" rx="16" ry="8" transform="rotate(-8 105 64)" fill="#efd06a"/>
<ellipse cx="105" cy="62" rx="15.5" ry="7" transform="rotate(-8 105 62)" fill="#fbe9b2"/>
<ellipse cx="122" cy="81" rx="18" ry="10" transform="rotate(-5 122 81)" fill="#efd06a"/>
<ellipse cx="122" cy="79" rx="17.5" ry="9" transform="rotate(-5 122 79)" fill="#fbe9b2"/>
</svg>
<div class="nm" style="top:0px"><div class="b">Potatoes,</div><div class="r">chopped</div></div>
<div class="trk"><div class="in"><div class="sg" style="left:0px;width:80.5px;background:#fdca7b"></div><div class="sg" style="left:82.5px;width:79.0px;background:#f4a23e"></div><div class="sg" style="left:163.5px;width:79.0px;background:#e66b44"></div><div class="sg" style="left:244.5px;width:79.5px;background:#f8f8f8"></div><div class="sp" style="left:80.5px;width:2.0px;background:#f4f4f8"></div><div class="sp" style="left:161.5px;width:2.0px;background:#f4f4f8"></div><div class="sp" style="left:242.5px;width:2.0px;background:#f6f6f6"></div></div></div>
<div class="tp">375°F / 190°C</div>
<div class="tm">15 to 30</div>
</div><div class="row" style="top:2910.9px">
<svg class="ic" width="170" height="118" viewBox="0 0 170 118">
<g transform="rotate(25 86 40)"><rect x="74" y="28" width="24" height="24" rx="2" fill="#f7c18a"/><rect x="74" y="28" width="5" height="24" fill="#b85a5a"/><rect x="79" y="28" width="3" height="24" fill="#eea55a"/></g>
<g transform="rotate(-30 100 20)"><rect x="91" y="11" width="18" height="18" rx="2" fill="#f7c18a"/><rect x="91" y="11" width="18" height="4" fill="#b85a5a"/></g>
<g transform="rotate(25 111 48)"><rect x="99" y="36" width="24" height="24" rx="2" fill="#f7c18a"/><rect x="118" y="36" width="5" height="24" fill="#b85a5a"/><rect x="115" y="36" width="3" height="24" fill="#eea55a"/></g>
<g transform="rotate(-8 127 39)"><rect x="119" y="30" width="17" height="18" rx="2" fill="#f7c18a"/><rect x="119" y="30" width="17" height="4" fill="#b85a5a"/></g>
<path d="M56 62 C76 58 100 62 118 68 C124 70 130 68 132 66 C134 74 124 92 106 100 C92 106 76 108 62 108 C48 108 43 96 43 84 C43 72 48 64 56 62Z" fill="#bb5c5b"/>
<path d="M62 108 C76 108 92 106 106 100 C124 92 134 74 132 66 C128 84 112 96 96 100 C84 103 72 104 62 108Z" fill="#a64b4c"/>
<g stroke="#9c4444" stroke-width="0.8" fill="none"><path d="M98 70 C100 74 100 80 98 84 M112 76 C114 80 114 86 112 90 M84 70 C86 76 86 82 84 86"/></g>
<ellipse cx="64" cy="84" rx="21" ry="24" fill="#c86a60"/>
<ellipse cx="64" cy="84" rx="19" ry="22" fill="#e99a52"/>
<ellipse cx="64" cy="84" rx="16" ry="19" fill="#f8b877"/>
</svg>
<div class="nm" style="top:1.5px"><div class="b">Sweet</div><div class="b">potatoes,</div><div class="r">chopped</div></div>
<div class="trk"><div class="in"><div class="sg" style="left:0px;width:80.5px;background:#fdca7b"></div><div class="sg" style="left:82.5px;width:79.0px;background:#f4a23e"></div><div class="sg" style="left:163.5px;width:79.0px;background:#e66b44"></div><div class="sg" style="left:244.5px;width:79.5px;background:#c4191a"></div><div class="sp" style="left:80.5px;width:2.0px;background:#f4f4f8"></div><div class="sp" style="left:161.5px;width:2.0px;background:#f4f4f8"></div><div class="sp" style="left:242.5px;width:2.0px;background:#f4f4f8"></div></div></div>
<div class="tp">400°F / 204°C</div>
<div class="tm">8 to 15</div>
</div><div class="row" style="top:3029.5px">
<svg class="ic" width="170" height="118" viewBox="0 0 170 118">
<path d="M34 48 C48 40 70 32 90 34 C110 36 124 42 134 42 C140 42 146 38 148 40 C148 54 140 70 124 78 C108 86 92 88 78 88 C58 88 40 76 32 60 C30 54 30 50 34 48Z" fill="#c1615f"/>
<path d="M32 56 C44 72 66 80 88 80 C110 80 132 74 146 52 C142 66 134 74 124 78 C108 86 92 88 78 88 C58 88 40 76 32 56Z" fill="#a94f4f"/>
<g stroke="#9c4444" stroke-width="0.9" fill="none"><path d="M56 42 C60 46 62 54 60 62 M72 44 C76 50 78 58 76 66 M90 48 C94 52 94 58 92 64 M104 42 C108 48 108 54 106 60 M116 52 C118 60 118 68 116 76 M132 48 C134 52 134 56 132 60"/></g>
</svg>
<div class="nm" style="top:1.5px"><div class="b">Sweet</div><div class="b">potatoes,</div><div class="r">whole</div></div>
<div class="trk"><div class="in"><div class="sg" style="left:0px;width:80.5px;background:#fdca7b"></div><div class="sg" style="left:82.5px;width:79.0px;background:#f4a23e"></div><div class="sg" style="left:163.5px;width:79.0px;background:#e66b44"></div><div class="sg" style="left:244.5px;width:79.5px;background:#f8f8f8"></div><div class="sp" style="left:80.5px;width:2.0px;background:#f4f4f8"></div><div class="sp" style="left:161.5px;width:2.0px;background:#f4f4f8"></div><div class="sp" style="left:242.5px;width:2.0px;background:#f6f6f6"></div></div></div>
<div class="tp">375°F / 190°C</div>
<div class="tm">30 to 35</div>
</div><div class="row" style="top:3148.1px">
<svg class="ic" width="170" height="118" viewBox="0 0 170 118">
<circle cx="60.5" cy="34.5" r="21.5" fill="#f05a28"/>
<path d="M76 19 C84 26 86 40 80 48 C74 56 62 58 52 54 C66 52 78 40 76 19Z" fill="#e44a22"/>
<ellipse cx="53" cy="22" rx="5" ry="3" transform="rotate(-30 53 22)" fill="#f89a70"/>
<circle cx="119" cy="58.5" r="24" fill="#e9433b"/>
<path d="M136 41 C146 52 146 68 136 78 C128 86 114 86 104 80 C122 78 138 64 136 41Z" fill="#d93a32"/>
<ellipse cx="110" cy="45" rx="6" ry="3.5" transform="rotate(-30 110 45)" fill="#f68a80"/>
<circle cx="61" cy="83.5" r="23.5" fill="#ca2a2c"/>
<path d="M40 90 C46 104 62 110 76 104 C82 100 86 94 86 86 C78 96 60 100 40 90Z" fill="#b02226"/>
<ellipse cx="52" cy="70" rx="6" ry="3.5" transform="rotate(-30 52 70)" fill="#ea6a6a"/>
<g fill="none" stroke="#2a8a3b" stroke-width="2.2" stroke-linecap="round"><path d="M66 38 C90 50 110 70 120 90"/><path d="M70 88 C90 94 108 92 116 84"/></g>
<g fill="#2a8a3b"><path d="M60 36 l4 -7 l3 5 l6 -1 l-3 5 l4 4 l-6 1 l-2 6 l-3 -5 l-6 1 l3 -5z"/><path d="M107 64 l4 -7 l3 5 l6 -1 l-3 5 l4 4 l-6 1 l-2 6 l-3 -5 l-6 1 l3 -5z"/><path d="M64 86 l4 -7 l3 5 l6 -1 l-3 5 l4 4 l-6 1 l-2 6 l-3 -5 l-6 1 l3 -5z"/></g>
</svg>
<div class="nm" style="top:0px"><div class="b">Tomatoes,</div><div class="r">cherry</div></div>
<div class="trk"><div class="in"><div class="sg" style="left:0px;width:80.5px;background:#fdca7b"></div><div class="sg" style="left:82.5px;width:79.0px;background:#f4a23e"></div><div class="sg" style="left:163.5px;width:79.0px;background:#f8f8f8"></div><div class="sg" style="left:244.5px;width:79.5px;background:#f8f8f8"></div><div class="sp" style="left:80.5px;width:2.0px;background:#f4f4f8"></div><div class="sp" style="left:161.5px;width:2.0px;background:#f6f6f6"></div><div class="sp" style="left:242.5px;width:2.0px;background:#e9e9e9"></div></div></div>
<div class="tp">350°F / 177°C</div>
<div class="tm">5 to 8</div>
</div><div class="row" style="top:3266.7px">
<svg class="ic" width="170" height="118" viewBox="0 0 170 118">
<ellipse cx="71.5" cy="57" rx="41.5" ry="35" fill="#e8493a"/>
<path d="M100 32 C112 42 116 58 110 74 C104 88 88 94 72 92 C92 84 106 64 100 32Z" fill="#d93a2c"/>
<ellipse cx="47" cy="42" rx="4" ry="8" transform="rotate(30 47 42)" fill="#f48a7c"/>
<path d="M48 24 C56 22 64 22 68 20 L70 14 L74 14 L74 20 C80 18 88 18 94 20 C88 24 80 26 76 28 C72 30 66 30 62 28 C58 26 52 26 48 24Z" fill="#2a9a3a"/>
<path d="M70.5 72 C70.5 92 86 105 108 105 C130 105 144.5 92 144.5 72Z" fill="#e8402f"/>
<path d="M72 76 C76 92 90 102 108 103 C126 103 140 92 143 78 C130 90 110 94 72 76Z" fill="#d8342a"/>
<ellipse cx="107.5" cy="72" rx="37" ry="11" fill="#f05e48"/>
<ellipse cx="107.5" cy="72" rx="34" ry="9.5" fill="#f27a66"/>
<g fill="#c92b2a"><path d="M80 70 C84 64 96 64 98 68 C96 72 86 74 80 70Z"/><path d="M116 68 C120 62 134 64 136 70 C132 74 122 74 116 68Z"/><path d="M92 78 C98 74 116 74 122 78 C116 82 98 82 92 78Z"/></g>
<ellipse cx="107.5" cy="72" rx="5" ry="2" fill="#f7a696"/>
</svg>
<div class="nm" style="top:0px"><div class="b">Tomatoes,</div><div class="r">halved</div></div>
<div class="trk"><div class="in"><div class="sg" style="left:0px;width:80.5px;background:#fdca7b"></div><div class="sg" style="left:82.5px;width:79.0px;background:#f4a23e"></div><div class="sg" style="left:163.5px;width:79.0px;background:#f8f8f8"></div><div class="sg" style="left:244.5px;width:79.5px;background:#f8f8f8"></div><div class="sp" style="left:80.5px;width:2.0px;background:#f4f4f8"></div><div class="sp" style="left:161.5px;width:2.0px;background:#f6f6f6"></div><div class="sp" style="left:242.5px;width:2.0px;background:#e9e9e9"></div></div></div>
<div class="tp">350°F / 177°C</div>
<div class="tm">6 to 12</div>
</div><div class="row" style="top:3385.3px">
<svg class="ic" width="170" height="118" viewBox="0 0 170 118">
<path d="M56 56 C80 50 110 44 130 34 C138 30 146 32 148 40 C150 50 140 60 124 66 C100 76 78 82 60 86Z" fill="#4e9c3c"/>
<path d="M60 86 C78 82 100 76 124 66 C140 60 150 50 148 40 C146 56 130 62 112 70 C92 78 76 82 60 86Z" fill="#3e8430"/>
<path d="M60 60 C86 54 110 48 134 38" stroke="#62b04e" stroke-width="2" fill="none"/>
<path d="M140 34 L144 30 C146 30 150 32 150 36 L146 40Z" fill="#5aaa3e"/>
<ellipse cx="60" cy="70" rx="14" ry="16" fill="#3e8430"/>
<ellipse cx="58" cy="70" rx="13" ry="15" fill="#5aaa3e"/>
<ellipse cx="58" cy="70" rx="11" ry="13" fill="#e6eecf"/>
<ellipse cx="44" cy="72" rx="16" ry="17" fill="#3e8430"/>
<ellipse cx="43" cy="72" rx="15.5" ry="16.5" fill="#5aaa3e"/>
<ellipse cx="43" cy="72" rx="13.5" ry="14.5" fill="#e6eecf"/>
<g fill="#c9d8a0"><circle cx="38" cy="68" r="1"/><circle cx="46" cy="66" r="1"/><circle cx="48" cy="74" r="1"/><circle cx="40" cy="78" r="1"/><circle cx="36" cy="73" r="1"/></g>
</svg>
<div class="nm" style="top:0px"><div class="b">Zucchini,</div><div class="r">chopped</div></div>
<div class="trk"><div class="in"><div class="sg" style="left:0px;width:80.5px;background:#fdca7b"></div><div class="sg" style="left:82.5px;width:79.0px;background:#f4a23e"></div><div class="sg" style="left:163.5px;width:79.0px;background:#f8f8f8"></div><div class="sg" style="left:244.5px;width:79.5px;background:#f8f8f8"></div><div class="sp" style="left:80.5px;width:2.0px;background:#f4f4f8"></div><div class="sp" style="left:161.5px;width:2.0px;background:#f6f6f6"></div><div class="sp" style="left:242.5px;width:2.0px;background:#e9e9e9"></div></div></div>
<div class="tp">350°F / 177°C</div>
<div class="tm">8 to 12</div>
</div><div class="row" style="top:3503.9px">
<svg class="ic" width="170" height="118" viewBox="0 0 170 118"><g fill="none" stroke-linecap="round"><path d="M41.2 49.4 L45.2 47.6 L50.0 45.9 L55.4 44.4 L61.3 43.2 L67.7 42.3 L74.4 41.6 L81.4 41.2 L88.4 41.1 L95.4 41.3 L102.3 41.9 L108.9 42.6 L115.1 43.7 L120.9 45.0 L126.1 46.6 L130.7 48.3 L134.5 50.3 L137.5 52.4 L139.6 54.5 L140.9 56.8 L141.3 59.1 L140.7 61.4 L139.2 63.6 L136.9 65.8 L133.7 67.8 L129.7 69.7 L125.0 71.4 L119.7 72.8 L113.8 74.1 L107.4 75.1 L100.8 75.8" stroke="#d8df88" stroke-width="2.6"/><path d="M131.1 64.3 L125.8 66.4 L119.2 68.4 L111.6 70.0 L103.4 71.3 L94.6 72.3 L85.7 72.8 L76.8 73.0 L68.3 72.7 L60.4 72.0 L53.3 70.9 L47.4 69.4 L42.8 67.7 L39.6 65.7 L37.9 63.4 L37.8 61.1 L39.3 58.7 L42.3 56.4 L46.8 54.1 L52.5 52.1 L59.4 50.2 L67.2 48.7 L75.7 47.5 L84.5 46.6 L93.5 46.2 L102.3 46.2 L110.6 46.6 L118.3 47.5 L125.0 48.7 L130.5 50.2 L134.7 52.1" stroke="#d8df88" stroke-width="2.6"/><path d="M50.3 35.1 L55.4 33.2 L61.2 31.6 L67.4 30.3 L74.0 29.5 L80.9 29.0 L87.9 28.8 L95.1 29.1 L102.1 29.8 L109.0 30.8 L115.5 32.2 L121.7 33.9 L127.4 35.9 L132.5 38.2 L136.8 40.8 L140.5 43.5 L143.3 46.4 L145.3 49.3 L146.4 52.4 L146.5 55.4 L145.8 58.4 L144.2 61.3 L141.7 64.0 L138.3 66.6 L134.2 68.9 L129.4 70.9 L123.9 72.7 L117.9 74.1 L111.5 75.2 L104.7 75.9 L97.7 76.2" stroke="#d8df88" stroke-width="2.6"/><path d="M111.3 58.8 L110.2 61.0 L108.5 63.1 L106.0 65.1 L103.0 66.9 L99.5 68.6 L95.5 70.0 L91.2 71.1 L86.6 72.0 L81.9 72.5 L77.1 72.8 L72.4 72.7 L67.9 72.2 L63.7 71.5 L59.8 70.4 L56.4 69.1 L53.6 67.5 L51.4 65.7 L49.8 63.8 L48.9 61.7 L48.8 59.5 L49.4 57.3 L50.6 55.2 L52.6 53.1 L55.2 51.1 L58.3 49.3 L62.0 47.7 L66.1 46.4 L70.5 45.3 L75.1 44.5 L79.8 44.1" stroke="#d8df88" stroke-width="2.6"/><path d="M64.3 45.3 L70.1 44.0 L76.4 43.0 L82.8 42.5 L89.4 42.5 L95.9 42.8 L102.2 43.7 L108.1 44.9 L113.6 46.5 L118.5 48.5 L122.7 50.8 L126.0 53.4 L128.5 56.1 L130.0 59.0 L130.5 62.0 L130.1 64.9 L128.7 67.8 L126.3 70.6 L123.0 73.2 L119.0 75.5 L114.2 77.5 L108.7 79.2 L102.8 80.5 L96.5 81.3 L90.1 81.7 L83.5 81.7 L77.0 81.3 L70.8 80.4 L64.9 79.0 L59.5 77.3 L54.8 75.3" stroke="#d8df88" stroke-width="2.6"/><path d="M61.0 82.9 L54.5 81.2 L48.5 79.1 L43.1 76.8 L38.5 74.3 L34.7 71.5 L31.8 68.7 L29.8 65.7 L28.8 62.7 L28.8 59.8 L29.7 56.9 L31.7 54.2 L34.6 51.6 L38.4 49.2 L43.0 47.1 L48.4 45.3 L54.4 43.9 L60.9 42.8 L67.9 42.0 L75.1 41.7 L82.6 41.8 L90.0 42.2 L97.4 43.1 L104.5 44.3 L111.3 45.9 L117.5 47.8 L123.2 50.0 L128.2 52.4 L132.5 55.1 L135.8 57.9 L138.3 60.8" stroke="#d8df88" stroke-width="2.6"/><path d="M46.0 60.1 L40.8 57.0 L37.2 53.8 L35.2 50.5 L35.0 47.3 L36.6 44.3 L39.9 41.6 L44.8 39.3 L51.1 37.5 L58.6 36.2 L67.0 35.5 L76.0 35.5 L85.3 36.0 L94.7 37.2 L103.6 38.9 L111.9 41.1 L119.2 43.7 L125.3 46.6 L130.0 49.8 L133.0 53.1 L134.3 56.3 L133.8 59.5 L131.6 62.4 L127.8 64.9 L122.3 67.1 L115.6 68.7 L107.7 69.8 L99.1 70.2 L89.9 70.1 L80.5 69.3 L71.3 68.0" stroke="#d8df88" stroke-width="2.6"/><path d="M129.1 48.7 L129.4 52.3 L129.0 55.9 L127.8 59.4 L126.0 62.8 L123.5 65.9 L120.4 68.8 L116.7 71.2 L112.7 73.3 L108.2 74.9 L103.5 76.0 L98.6 76.6 L93.6 76.7 L88.7 76.3 L84.0 75.3 L79.4 73.8 L75.3 71.9 L71.5 69.5 L68.3 66.8 L65.7 63.8 L63.7 60.4 L62.3 57.0 L61.7 53.4 L61.8 49.8 L62.7 46.2 L64.2 42.7 L66.4 39.5 L69.3 36.5 L72.7 33.9 L76.5 31.6 L80.8 29.8" stroke="#3e8c34" stroke-width="2.6"/><path d="M137.8 53.5 L136.7 56.0 L134.7 58.4 L131.7 60.8 L127.9 63.0 L123.2 65.1 L117.9 66.9 L112.0 68.4 L105.6 69.6 L98.9 70.5 L92.0 71.1 L85.1 71.3 L78.4 71.1 L71.9 70.5 L65.8 69.6 L60.3 68.4 L55.5 66.9 L51.4 65.1 L48.1 63.1 L45.9 60.9 L44.5 58.5 L44.2 56.0 L45.0 53.6 L46.7 51.1 L49.3 48.7 L52.9 46.4 L57.3 44.3 L62.4 42.4 L68.2 40.8 L74.5 39.5 L81.1 38.5" stroke="#3e8c34" stroke-width="2.6"/><path d="M72.4 43.7 L75.8 42.8 L79.4 42.2 L83.1 42.0 L86.8 42.0 L90.4 42.4 L94.0 43.1 L97.4 44.1 L100.5 45.3 L103.4 46.9 L105.9 48.6 L108.1 50.5 L109.9 52.7 L111.2 54.9 L112.0 57.3 L112.4 59.7 L112.3 62.1 L111.8 64.5 L110.7 66.8 L109.2 69.0 L107.3 71.1 L105.0 73.0 L102.3 74.6 L99.4 76.1 L96.1 77.2 L92.7 78.1 L89.1 78.7 L85.4 79.0 L81.7 78.9 L78.1 78.6 L74.5 77.9" stroke="#3a8230" stroke-width="2.6"/><path d="M58.5 73.7 L56.4 71.4 L54.9 68.9 L53.9 66.2 L53.5 63.5 L53.6 60.7 L54.3 57.9 L55.5 55.2 L57.2 52.5 L59.4 50.0 L62.1 47.7 L65.1 45.6 L68.5 43.8 L72.2 42.3 L76.2 41.1 L80.2 40.2 L84.4 39.7 L88.6 39.6 L92.7 39.9 L96.7 40.5 L100.4 41.5 L103.9 42.8 L107.1 44.4 L109.9 46.3 L112.3 48.5 L114.1 50.8 L115.5 53.4 L116.3 56.1 L116.6 58.9 L116.3 61.7 L115.5 64.4" stroke="#4a9a3a" stroke-width="2.6"/><path d="M116.0 85.2 L108.1 87.7 L99.8 89.4 L91.3 90.1 L83.0 89.8 L75.1 88.6 L68.0 86.5 L62.0 83.6 L57.1 79.9 L53.7 75.6 L51.9 70.9 L51.6 65.9 L53.0 60.9 L55.9 55.9 L60.3 51.2 L66.0 47.0 L72.8 43.4 L80.4 40.6 L88.6 38.6 L97.1 37.5 L105.5 37.3 L113.5 38.2 L121.0 39.9 L127.5 42.6 L132.8 46.0 L136.8 50.1 L139.3 54.6 L140.2 59.5 L139.4 64.6 L137.1 69.6 L133.3 74.4" stroke="#3a8230" stroke-width="2.6"/><path d="M99.2 37.9 L106.9 37.8 L114.3 38.0 L121.2 38.6 L127.6 39.4 L133.3 40.5 L138.2 41.9 L142.1 43.4 L145.1 45.2 L147.0 47.2 L147.8 49.2 L147.5 51.3 L146.1 53.5 L143.7 55.7 L140.2 57.8 L135.8 59.8 L130.5 61.7 L124.4 63.4 L117.7 65.0 L110.5 66.3 L102.9 67.3 L95.1 68.0 L87.3 68.5 L79.5 68.6 L72.0 68.5 L65.0 68.0 L58.4 67.2 L52.5 66.2 L47.5 64.9 L43.3 63.4 L40.1 61.6" stroke="#4a9a3a" stroke-width="2.6"/><path d="M67.5 71.2 L63.5 69.2 L60.1 66.8 L57.4 64.0 L55.6 60.9 L54.7 57.6 L54.6 54.2 L55.4 50.7 L57.2 47.3 L59.7 44.1 L63.0 41.0 L67.0 38.3 L71.5 36.0 L76.5 34.2 L81.8 32.8 L87.2 31.9 L92.7 31.7 L98.1 32.0 L103.2 32.8 L107.9 34.2 L112.0 36.1 L115.6 38.4 L118.4 41.1 L120.4 44.1 L121.6 47.4 L121.8 50.8 L121.2 54.3 L119.7 57.7 L117.3 61.0 L114.2 64.1 L110.3 66.9" stroke="#3e8c34" stroke-width="2.6"/><path d="M124.0 75.4 L117.1 78.2 L109.5 80.3 L101.5 81.6 L93.4 82.1 L85.4 81.8 L77.8 80.7 L70.9 78.8 L64.9 76.2 L60.0 72.9 L56.4 69.1 L54.1 65.0 L53.4 60.6 L54.1 56.1 L56.3 51.6 L60.0 47.4 L64.9 43.5 L70.9 40.1 L77.8 37.4 L85.3 35.3 L93.3 34.0 L101.5 33.5 L109.4 33.8 L117.0 34.9 L123.9 36.9 L129.9 39.5 L134.8 42.8 L138.4 46.6 L140.6 50.8 L141.3 55.2 L140.5 59.7" stroke="#3a8230" stroke-width="2.6"/><path d="M131.5 42.6 L133.8 46.9 L134.6 51.5 L133.7 56.1 L131.2 60.7 L127.2 65.1 L121.8 69.1 L115.3 72.6 L107.7 75.5 L99.4 77.7 L90.7 79.1 L81.8 79.7 L73.1 79.4 L64.8 78.3 L57.2 76.4 L50.5 73.7 L45.1 70.4 L41.0 66.6 L38.4 62.3 L37.4 57.8 L38.1 53.2 L40.3 48.6 L44.1 44.2 L49.2 40.1 L55.6 36.5 L63.0 33.5 L71.2 31.2 L79.9 29.6 L88.7 28.9 L97.5 29.1 L105.9 30.0" stroke="#3a8230" stroke-width="2.6"/><path d="M80.0 33.6 L84.5 33.3 L89.0 33.5 L93.4 34.0 L97.5 34.9 L101.4 36.2 L104.8 37.9 L107.8 39.8 L110.3 42.1 L112.2 44.5 L113.5 47.1 L114.2 49.9 L114.2 52.7 L113.5 55.5 L112.2 58.2 L110.3 60.8 L107.8 63.3 L104.8 65.5 L101.3 67.4 L97.4 69.1 L93.3 70.3 L88.9 71.2 L84.4 71.7 L79.9 71.8 L75.4 71.5 L71.1 70.8 L67.1 69.6 L63.4 68.2 L60.2 66.4 L57.4 64.3 L55.2 61.9" stroke="#4a9a3a" stroke-width="2.6"/><path d="M127.6 67.2 L125.2 68.8 L122.3 70.2 L118.8 71.3 L115.0 72.3 L110.8 73.0 L106.3 73.5 L101.6 73.7 L96.8 73.7 L92.0 73.4 L87.2 72.9 L82.6 72.1 L78.2 71.1 L74.1 69.8 L70.4 68.4 L67.1 66.8 L64.3 65.1 L62.1 63.3 L60.4 61.4 L59.4 59.4 L59.0 57.5 L59.3 55.5 L60.2 53.7 L61.7 51.9 L63.8 50.3 L66.5 48.8 L69.7 47.6 L73.4 46.5 L77.4 45.6 L81.8 45.0 L86.3 44.7" stroke="#3a8230" stroke-width="2.6"/><path d="M94.0 44.5 L97.6 45.0 L101.1 45.7 L104.6 46.7 L107.8 47.8 L110.8 49.1 L113.5 50.5 L115.9 52.1 L118.0 53.8 L119.7 55.6 L121.0 57.4 L121.9 59.2 L122.3 61.1 L122.3 62.9 L121.9 64.7 L121.0 66.4 L119.7 68.0 L118.0 69.5 L115.9 70.8 L113.5 71.9 L110.8 72.9 L107.8 73.7 L104.5 74.2 L101.1 74.6 L97.6 74.7 L94.0 74.6 L90.3 74.2 L86.7 73.7 L83.2 72.9 L79.8 71.9 L76.6 70.8" stroke="#4a9a3a" stroke-width="2.6"/><path d="M109.9 44.1 L109.6 45.9 L108.5 47.7 L106.6 49.4 L104.0 51.0 L100.7 52.4 L96.9 53.6 L92.8 54.5 L88.5 55.0 L84.2 55.2 L80.0 55.0 L76.2 54.5 L72.8 53.6 L70.0 52.5 L67.9 51.0 L66.6 49.4 L66.1 47.7 L66.4 45.9 L67.7 44.1 L69.7 42.4 L72.4 40.8 L75.7 39.4 L79.5 38.3 L83.7 37.5 L88.0 37.0 L92.3 36.8 L96.4 37.1 L100.2 37.6 L103.6 38.5 L106.3 39.7 L108.3 41.1" stroke="#d8df88" stroke-width="2.6"/><path d="M96.2 55.6 L93.2 55.0 L90.4 54.1 L87.9 53.1 L85.8 51.9 L84.1 50.6 L82.9 49.3 L82.2 47.8 L82.1 46.4 L82.5 45.1 L83.4 43.8 L84.8 42.7 L86.7 41.7 L89.0 40.9 L91.6 40.3 L94.5 40.0 L97.6 39.9 L100.7 40.0 L103.8 40.4 L106.8 41.0 L109.6 41.9 L112.1 42.9 L114.2 44.1 L115.9 45.4 L117.1 46.7 L117.8 48.2 L117.9 49.6 L117.5 50.9 L116.6 52.2 L115.2 53.3 L113.3 54.3" stroke="#4a9a3a" stroke-width="2.4"/><path d="M26 63 C50 72 90 78 124 76 C140 74 146 66 140 56" stroke="#3e8c34" stroke-width="2.6"/><path d="M28 70 C60 78 100 84 130 80" stroke="#3e8c34" stroke-width="2.6"/><path d="M34 62 C60 70 96 74 120 72" stroke="#d8df88" stroke-width="2.4"/></g></svg>
<div class="nm" style="top:0px"><div class="b">Zucchini,</div><div class="r">noodles</div></div>
<div class="trk"><div class="in"><div class="sg" style="left:0px;width:80.5px;background:#fdca7b"></div><div class="sg" style="left:82.5px;width:79.0px;background:#f4a23e"></div><div class="sg" style="left:163.5px;width:79.0px;background:#e66b44"></div><div class="sg" style="left:244.5px;width:79.5px;background:#c4191a"></div><div class="sp" style="left:80.5px;width:2.0px;background:#f4f4f8"></div><div class="sp" style="left:161.5px;width:2.0px;background:#f4f4f8"></div><div class="sp" style="left:242.5px;width:2.0px;background:#f4f4f8"></div></div></div>
<div class="tp">400°F / 204°C</div>
<div class="tm">10 to 20</div>
</div>
<div id="v1"></div><div id="v2"></div>
<div id="ft"><div class="bl"></div>
<div class="logo" id="lg2">COOKSMΛRTS</div>
<div class="ser" id="f1">For more resources on air frying,</div>
<div class="ser" id="f2">visit <b>cooksmarts.com/airfry</b></div>
<div class="ser" id="f3">© 2020 Cook Smarts. All Rights Reserved.</div>
</div>
</body></html>
